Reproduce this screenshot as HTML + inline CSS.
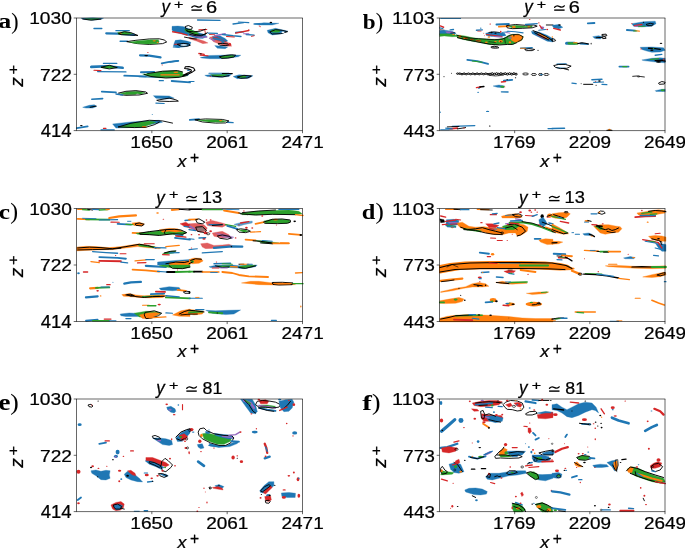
<!DOCTYPE html>
<html><head><meta charset="utf-8"><style>
html,body{margin:0;padding:0;background:#fff;width:685px;height:548px;overflow:hidden}
svg{display:block;will-change:transform}
</style></head><body>
<svg width="685" height="548" viewBox="0 0 685 548" font-family="Liberation Sans, sans-serif">
<rect width="685" height="548" fill="#fff"/>
<g>
<g transform="translate(76,17) scale(0.166423)"><polygon points="30,8 100,5 165,8 150,14 100,19 50,15" fill="#1f77b4" stroke="#1f77b4" stroke-width="2" stroke-linejoin="round"/><polygon points="55,10 140,9 125,15 75,16" fill="#2ca02c" stroke="#2ca02c" stroke-width="2" stroke-linejoin="round"/><polyline points="40,12 90,19 150,13" fill="none" stroke="#000" stroke-width="5.5" stroke-linejoin="round" stroke-linecap="round"/><polyline points="108,69 155,69" fill="none" stroke="#1f77b4" stroke-width="8.1" stroke-linecap="round" stroke-linejoin="round"/><polyline points="182,98 250,100 350,108" fill="none" stroke="#1f77b4" stroke-width="13.5" stroke-linecap="round" stroke-linejoin="round"/><polyline points="240,82 320,82" fill="none" stroke="#1f77b4" stroke-width="8.1" stroke-linecap="round" stroke-linejoin="round"/><polygon points="250,92 300,88 340,100 300,106 255,104" fill="#2ca02c" stroke="#2ca02c" stroke-width="2" stroke-linejoin="round"/><ellipse cx="268" cy="96" rx="8" ry="4" fill="#ff7f0e"/><polygon points="255,100 290,88 330,94 372,111 320,108 270,106" fill="none" stroke="#000" stroke-width="5.5" stroke-linejoin="round"/><polyline points="265,146 310,146" fill="none" stroke="#1f77b4" stroke-width="8.1" stroke-linecap="round" stroke-linejoin="round"/><polygon points="305,148 360,140 440,132 500,131 530,138 545,150 520,160 440,165 370,160" fill="none" stroke="#000" stroke-width="5.5" stroke-linejoin="round"/><polygon points="320,150 380,142 450,136 495,136 500,150 490,160 420,162 350,158" fill="#2ca02c" stroke="#2ca02c" stroke-width="2" stroke-linejoin="round"/><ellipse cx="470" cy="143" rx="10" ry="4" fill="#ff7f0e"/><ellipse cx="490" cy="152" rx="6" ry="4" fill="#ff7f0e"/><polyline points="385,230 440,232 508,242" fill="none" stroke="#1f77b4" stroke-width="13.5" stroke-linecap="round" stroke-linejoin="round"/><ellipse cx="422" cy="232" rx="12" ry="4" fill="#000"/><ellipse cx="432" cy="213" rx="4" ry="3" fill="#d62728"/><polyline points="515,278 560,270 615,264" fill="none" stroke="#1f77b4" stroke-width="10.8" stroke-linecap="round" stroke-linejoin="round"/><ellipse cx="518" cy="288" rx="4" ry="3" fill="#d62728"/><polyline points="92,300 180,296 280,305" fill="none" stroke="#1f77b4" stroke-width="16.2" stroke-linecap="round" stroke-linejoin="round"/><polyline points="165,279 245,279" fill="none" stroke="#1f77b4" stroke-width="8.1" stroke-linecap="round" stroke-linejoin="round"/><polyline points="130,328 300,330" fill="none" stroke="#1f77b4" stroke-width="8.1" stroke-linecap="round" stroke-linejoin="round"/><polyline points="108,320 150,322" fill="none" stroke="#d62728" stroke-width="6.75" stroke-linecap="round" stroke-linejoin="round"/><polygon points="150,300 200,292 245,302 200,310 160,306" fill="#2ca02c" stroke="#2ca02c" stroke-width="2" stroke-linejoin="round"/><polygon points="150,302 200,290 248,304 200,312" fill="none" stroke="#000" stroke-width="5.5" stroke-linejoin="round"/><polyline points="390,332 470,330" fill="none" stroke="#1f77b4" stroke-width="10.8" stroke-linecap="round" stroke-linejoin="round"/><polygon points="420,342 520,326 600,322 640,330 640,342" fill="#2ca02c" stroke="#2ca02c" stroke-width="2" stroke-linejoin="round"/><ellipse cx="600" cy="332" rx="15" ry="5" fill="#ff7f0e"/><polyline points="430,340 520,326 610,322 640,330" fill="none" stroke="#000" stroke-width="5.5" stroke-linejoin="round" stroke-linecap="round"/></g>
<g transform="translate(189,17) scale(0.166423)"><polygon points="395,42 450,35 540,38 500,48 420,48" fill="#1f77b4" stroke="#1f77b4" stroke-width="2" stroke-linejoin="round"/><ellipse cx="492" cy="33" rx="8" ry="4" fill="#000"/><ellipse cx="428" cy="58" rx="4" ry="3" fill="#d62728"/><polygon points="470,80 520,68 595,85 560,100 500,108 475,95" fill="#1f77b4" stroke="#1f77b4" stroke-width="2" stroke-linejoin="round"/><ellipse cx="520" cy="84" rx="28" ry="9" fill="#2ca02c"/><polygon points="485,90 520,76 560,80 592,88 550,100 500,102" fill="none" stroke="#000" stroke-width="5.5" stroke-linejoin="round"/><ellipse cx="565" cy="92" rx="10" ry="5" fill="#fff"/><polyline points="120,338 240,338" fill="none" stroke="#1f77b4" stroke-width="6.75" stroke-linecap="round" stroke-linejoin="round"/><polyline points="200,340 260,340" fill="none" stroke="#000" stroke-width="6.75" stroke-linecap="round" stroke-linejoin="round"/></g>
<g transform="translate(76,74) scale(0.166423)"><polyline points="290,10 420,14" fill="none" stroke="#1f77b4" stroke-width="10.8" stroke-linecap="round" stroke-linejoin="round"/><polyline points="380,16 520,20" fill="none" stroke="#1f77b4" stroke-width="8.1" stroke-linecap="round" stroke-linejoin="round"/><polygon points="400,0 640,0 670,10 600,22 500,22 430,12" fill="#2ca02c" stroke="#2ca02c" stroke-width="2" stroke-linejoin="round"/><polyline points="510,5 620,5" fill="none" stroke="#ff7f0e" stroke-width="6.75" stroke-linecap="round" stroke-linejoin="round"/><polyline points="410,2 450,15 540,24 620,20 670,8" fill="none" stroke="#000" stroke-width="5.5" stroke-linejoin="round" stroke-linecap="round"/><polyline points="500,40 525,40" fill="none" stroke="#1f77b4" stroke-width="6.75" stroke-linecap="round" stroke-linejoin="round"/><polyline points="575,42 685,50" fill="none" stroke="#1f77b4" stroke-width="10.8" stroke-linecap="round" stroke-linejoin="round"/><polyline points="155,106 240,110" fill="none" stroke="#1f77b4" stroke-width="10.8" stroke-linecap="round" stroke-linejoin="round"/><polygon points="265,116 310,106 370,104 415,112 385,122 300,125" fill="#2ca02c" stroke="#2ca02c" stroke-width="2" stroke-linejoin="round"/><ellipse cx="370" cy="122" rx="12" ry="4" fill="#fff"/><polygon points="255,115 300,104 360,100 420,108 430,116 380,126 300,128 265,124" fill="none" stroke="#000" stroke-width="5.5" stroke-linejoin="round"/><polyline points="240,120 280,126" fill="none" stroke="#1f77b4" stroke-width="8.1" stroke-linecap="round" stroke-linejoin="round"/><polyline points="95,152 160,148" fill="none" stroke="#1f77b4" stroke-width="9.45" stroke-linecap="round" stroke-linejoin="round"/><polygon points="40,200 80,188 110,185 125,195 100,205 60,205" fill="#1f77b4" stroke="#1f77b4" stroke-width="2" stroke-linejoin="round"/><polyline points="85,200 120,193" fill="none" stroke="#000" stroke-width="6.0" stroke-linejoin="round" stroke-linecap="round"/><polygon points="465,130 560,132 590,145 540,150 480,145" fill="#1f77b4" stroke="#1f77b4" stroke-width="2" stroke-linejoin="round"/><polygon points="485,158 530,150 560,145 600,155 615,163 560,165 500,163" fill="none" stroke="#000" stroke-width="5.5" stroke-linejoin="round"/><polyline points="480,175 530,177" fill="none" stroke="#1f77b4" stroke-width="6.75" stroke-linecap="round" stroke-linejoin="round"/><ellipse cx="458" cy="243" rx="3" ry="3" fill="#1f77b4"/><polygon points="220,300 330,288 420,282 500,278 520,290 440,305 350,320 240,325" fill="#1f77b4" stroke="#1f77b4" stroke-width="2" stroke-linejoin="round"/><polygon points="260,318 340,296 440,283 480,290 440,305 400,320 300,322" fill="#2ca02c" stroke="#2ca02c" stroke-width="2" stroke-linejoin="round"/><ellipse cx="410" cy="318" rx="15" ry="6" fill="#ff7f0e"/><polyline points="255,318 330,296 440,278 520,282 580,295" fill="none" stroke="#000" stroke-width="5.5" stroke-linejoin="round" stroke-linecap="round"/><polyline points="255,318 350,322 420,320 470,305 500,290" fill="none" stroke="#000" stroke-width="5.5" stroke-linejoin="round" stroke-linecap="round"/><polyline points="5,325 70,315" fill="none" stroke="#1f77b4" stroke-width="10.8" stroke-linecap="round" stroke-linejoin="round"/><ellipse cx="32" cy="310" rx="8" ry="4" fill="#000"/><polyline points="165,327 180,327" fill="none" stroke="#d62728" stroke-width="6.75" stroke-linecap="round" stroke-linejoin="round"/><polyline points="150,336 230,336" fill="none" stroke="#1f77b4" stroke-width="6.75" stroke-linecap="round" stroke-linejoin="round"/></g>
<g transform="translate(189,74) scale(0.166423)"><polygon points="95,8 150,2 255,2 240,15 180,20 110,15" fill="#1f77b4" stroke="#1f77b4" stroke-width="2" stroke-linejoin="round"/><polygon points="130,5 230,3 210,12 150,12" fill="#2ca02c" stroke="#2ca02c" stroke-width="2" stroke-linejoin="round"/><polyline points="140,12 200,18 240,10" fill="none" stroke="#000" stroke-width="5.5" stroke-linejoin="round" stroke-linecap="round"/><ellipse cx="128" cy="15" rx="5" ry="3" fill="#d62728"/><polygon points="265,15 300,5 385,10 360,25 290,28" fill="#1f77b4" stroke="#1f77b4" stroke-width="2" stroke-linejoin="round"/><ellipse cx="320" cy="16" rx="25" ry="6" fill="#2ca02c"/><polygon points="290,18 330,8 375,12 350,24 310,26" fill="none" stroke="#000" stroke-width="5.5" stroke-linejoin="round"/><polyline points="0,45 30,45" fill="none" stroke="#1f77b4" stroke-width="6.75" stroke-linecap="round" stroke-linejoin="round"/><polyline points="5,276 60,272" fill="none" stroke="#1f77b4" stroke-width="10.8" stroke-linecap="round" stroke-linejoin="round"/><polyline points="230,290 265,292" fill="none" stroke="#1f77b4" stroke-width="8.1" stroke-linecap="round" stroke-linejoin="round"/><polygon points="35,275 100,270 200,273 240,282 220,294 160,295 80,288" fill="none" stroke="#000" stroke-width="5.5" stroke-linejoin="round"/><polygon points="55,278 110,275 190,277 225,284 200,290 120,288" fill="#2ca02c" stroke="#2ca02c" stroke-width="2" stroke-linejoin="round"/><ellipse cx="190" cy="280" rx="10" ry="4" fill="#ff7f0e"/></g>
<g transform="translate(170,20) scale(0.131387)"><polyline points="210,0 380,3" fill="none" stroke="#1f77b4" stroke-width="10.8" stroke-linecap="round" stroke-linejoin="round"/><polygon points="15,48 60,45 100,50 140,65 200,92 260,108 282,125 250,140 200,138 150,122 100,108 40,95 15,78" fill="#1f77b4" stroke="#1f77b4" stroke-width="2" stroke-linejoin="round"/><polyline points="20,90 80,100 130,115" fill="none" stroke="#d62728" stroke-width="10.8" stroke-linecap="round" stroke-linejoin="round"/><polygon points="140,130 200,140 260,160 290,175 250,180 200,160 150,145" fill="#d62728" stroke="#d62728" stroke-width="2" stroke-linejoin="round" opacity="0.75"/><polyline points="220,75 280,72" fill="none" stroke="#d62728" stroke-width="8.1" stroke-linecap="round" stroke-linejoin="round"/><polyline points="265,80 270,100" fill="none" stroke="#d62728" stroke-width="6.75" stroke-linecap="round" stroke-linejoin="round"/><polyline points="150,110 230,130 280,130" fill="none" stroke="#9467bd" stroke-width="10.8" stroke-linecap="round" stroke-linejoin="round"/><polygon points="110,70 150,70 200,90 220,105 200,115 150,100 115,85" fill="#2ca02c" stroke="#2ca02c" stroke-width="2" stroke-linejoin="round"/><polygon points="115,50 140,42 170,55 165,70 140,72 120,65" fill="none" stroke="#000" stroke-width="6.966666666666666" stroke-linejoin="round"/><polyline points="120,75 150,95 190,110 230,115 270,110 285,95" fill="none" stroke="#000" stroke-width="6.966666666666666" stroke-linejoin="round" stroke-linecap="round"/><polyline points="150,110 200,120 240,120 275,100" fill="none" stroke="#000" stroke-width="6.966666666666666" stroke-linejoin="round" stroke-linecap="round"/><polyline points="130,85 180,90 230,85 270,70" fill="none" stroke="#000" stroke-width="6.966666666666666" stroke-linejoin="round" stroke-linecap="round"/><polyline points="110,130 160,140 200,145" fill="none" stroke="#000" stroke-width="6.966666666666666" stroke-linejoin="round" stroke-linecap="round"/><polygon points="320,125 380,120 420,140 440,160 420,170 380,160 340,150" fill="#1f77b4" stroke="#1f77b4" stroke-width="2" stroke-linejoin="round"/><polygon points="300,130 350,125 420,160 460,180 470,200 420,200 380,185 330,165" fill="#d62728" stroke="#d62728" stroke-width="2" stroke-linejoin="round" opacity="0.7"/><polyline points="330,140 380,150 410,165" fill="none" stroke="#1f77b4" stroke-width="13.5" stroke-linecap="round" stroke-linejoin="round"/><ellipse cx="400" cy="175" rx="12" ry="5" fill="#1f77b4"/><polyline points="340,120 420,105" fill="none" stroke="#9467bd" stroke-width="10.8" stroke-linecap="round" stroke-linejoin="round"/><polyline points="300,140 340,160" fill="none" stroke="#9467bd" stroke-width="8.1" stroke-linecap="round" stroke-linejoin="round"/><polygon points="365,180 400,178 440,182 450,190 420,195 380,192" fill="none" stroke="#000" stroke-width="6.966666666666666" stroke-linejoin="round"/><ellipse cx="455" cy="185" rx="10" ry="12" fill="#d62728"/><polygon points="340,195 400,200 440,205 420,218 360,215" fill="#1f77b4" stroke="#1f77b4" stroke-width="2" stroke-linejoin="round"/><polygon points="40,155 80,150 130,160 160,170 150,195 110,205 60,210 25,200 30,180" fill="#1f77b4" stroke="#1f77b4" stroke-width="2" stroke-linejoin="round"/><polyline points="35,185 70,185" fill="none" stroke="#d62728" stroke-width="8.1" stroke-linecap="round" stroke-linejoin="round"/><polygon points="55,185 100,178 140,182 155,192 130,200 80,198" fill="none" stroke="#000" stroke-width="6.966666666666666" stroke-linejoin="round"/><ellipse cx="105" cy="190" rx="25" ry="6" fill="#fff"/><polyline points="25,205 70,210" fill="none" stroke="#1f77b4" stroke-width="8.1" stroke-linecap="round" stroke-linejoin="round"/><polyline points="290,100 360,102" fill="none" stroke="#1f77b4" stroke-width="10.8" stroke-linecap="round" stroke-linejoin="round"/><polyline points="300,110 340,112" fill="none" stroke="#d62728" stroke-width="6.75" stroke-linecap="round" stroke-linejoin="round"/><polyline points="400,110 480,120 540,125" fill="none" stroke="#1f77b4" stroke-width="10.8" stroke-linecap="round" stroke-linejoin="round"/><polyline points="430,125 490,130" fill="none" stroke="#d62728" stroke-width="8.1" stroke-linecap="round" stroke-linejoin="round"/><polyline points="500,95 560,90" fill="none" stroke="#1f77b4" stroke-width="10.8" stroke-linecap="round" stroke-linejoin="round"/><polyline points="500,100 600,80" fill="none" stroke="#d62728" stroke-width="10.8" stroke-linecap="round" stroke-linejoin="round"/><polyline points="580,110 640,115" fill="none" stroke="#1f77b4" stroke-width="10.8" stroke-linecap="round" stroke-linejoin="round"/><polyline points="560,105 600,105" fill="none" stroke="#9467bd" stroke-width="8.1" stroke-linecap="round" stroke-linejoin="round"/><polyline points="620,125 640,120" fill="none" stroke="#d62728" stroke-width="6.75" stroke-linecap="round" stroke-linejoin="round"/><polyline points="480,30 560,20" fill="none" stroke="#1f77b4" stroke-width="10.8" stroke-linecap="round" stroke-linejoin="round"/><polyline points="520,15 600,20" fill="none" stroke="#1f77b4" stroke-width="8.1" stroke-linecap="round" stroke-linejoin="round"/><polyline points="640,30 685,28" fill="none" stroke="#1f77b4" stroke-width="10.8" stroke-linecap="round" stroke-linejoin="round"/><ellipse cx="600" cy="75" rx="5" ry="4" fill="#d62728"/><ellipse cx="680" cy="45" rx="4" ry="4" fill="#d62728"/><polyline points="220,255 260,262" fill="none" stroke="#d62728" stroke-width="10.8" stroke-linecap="round" stroke-linejoin="round"/><ellipse cx="235" cy="258" rx="6" ry="4" fill="#000"/><polygon points="230,285 300,270 380,268 460,265 540,268 520,280 450,290 380,295 300,295 240,290" fill="#1f77b4" stroke="#1f77b4" stroke-width="2" stroke-linejoin="round"/><polyline points="230,268 290,272" fill="none" stroke="#d62728" stroke-width="8.1" stroke-linecap="round" stroke-linejoin="round"/><polygon points="380,278 430,272 480,268 490,280 440,288 390,290" fill="#2ca02c" stroke="#2ca02c" stroke-width="2" stroke-linejoin="round"/><polygon points="375,280 420,270 470,265 500,268 485,282 440,290 395,292" fill="none" stroke="#000" stroke-width="6.966666666666666" stroke-linejoin="round"/><polyline points="0,320 60,310" fill="none" stroke="#1f77b4" stroke-width="10.8" stroke-linecap="round" stroke-linejoin="round"/></g>
<g transform="translate(130,60) scale(0.116788)"><ellipse cx="500" cy="88" rx="14" ry="6" fill="#1f77b4"/><polyline points="470,128 500,125" fill="none" stroke="#1f77b4" stroke-width="10.8" stroke-linecap="round" stroke-linejoin="round"/><polygon points="452,138 500,120 535,102 556,88 545,68 505,56 474,58 468,72 495,76 522,84 526,94 498,110 460,128" fill="none" stroke="#000" stroke-width="9.0" stroke-linejoin="round"/></g>
</g>
<g stroke="#000" stroke-width="0.6" fill="none">
<path d="M76.2,18.0H302.8M76.2,130.6H302.8M76.5,18.0V130.6M302.5,18.0V130.6"/>
<path d="M73.70,18.00H76.5M151.83,130.6V133.20M73.70,74.30H76.5M227.17,130.6V133.20M73.70,130.60H76.5M302.50,130.6V133.20"/>
</g>
<text transform="matrix(0.19190,0,0,0.17042,29.16,24.23)" font-size="100" stroke="#000" stroke-width="1.38" >1030</text>
<text transform="matrix(0.19108,0,0,0.17286,40.04,80.70)" font-size="100" stroke="#000" stroke-width="1.37" >722</text>
<text transform="matrix(0.18519,0,0,0.17536,40.63,137.00)" font-size="100" stroke="#000" stroke-width="1.39" >414</text>
<text transform="matrix(0.19190,0,0,0.16479,130.25,147.94)" font-size="100" stroke="#000" stroke-width="1.40" >1650</text>
<text transform="matrix(0.19009,0,0,0.16479,206.17,147.94)" font-size="100" stroke="#000" stroke-width="1.41" >2061</text>
<text transform="matrix(0.19009,0,0,0.16714,281.50,148.10)" font-size="100" stroke="#000" stroke-width="1.40" >2471</text>
<text transform="matrix(0.17857,0,0,0.16415,177.41,166.50)" font-size="100" stroke="#000" stroke-width="1.46" font-style="italic">x</text>
<text transform="matrix(0.15625,0,0,0.16122,189.92,162.75)" font-size="100" stroke="#000" stroke-width="1.57" >+</text>
<text transform="matrix(0,-0.19184,0.17547,0,23.10,86.70)" font-size="100" stroke="#000" stroke-width="1.36" font-style="italic">z</text>
<text transform="matrix(0,-0.16458,0.15510,0,18.40,74.62)" font-size="100" stroke="#000" stroke-width="1.56" >+</text>
<text transform="matrix(0.17000,0,0,0.17973,161.40,13.23)" font-size="100" stroke="#000" stroke-width="1.43" font-style="italic">y</text>
<text transform="matrix(0.16042,0,0,0.13673,174.05,8.53)" font-size="100" stroke="#000" stroke-width="1.68" >+</text>
<path d="M191.85,7.25 C194.05,4.95 195.45,5.95 196.70,6.55 S199.35,8.15 201.55,5.85" stroke="#000" stroke-width="1.35" fill="none" stroke-linecap="round"/>
<rect x="191.45" y="9.40" width="10.4" height="1.4" fill="#000"/>
<text transform="matrix(0.20000,0,0,0.15775,206.05,12.64)" font-size="100" stroke="#000" stroke-width="1.40" >6</text>
<text transform="matrix(0.26000,0,0,0.21667,-1.78,28.28)" font-size="100" stroke="#000" stroke-width="0.00" font-family="Liberation Serif" font-weight="bold">a</text>
<text transform="matrix(0.21923,0,0,0.23444,11.14,28.88)" font-size="100" stroke="#000" stroke-width="0.22" font-family="Liberation Serif">)</text>
<g>
<g transform="translate(439,17) scale(0.166423)"><polyline points="10,9 130,9" fill="none" stroke="#1f77b4" stroke-width="5.4" stroke-linecap="round" stroke-linejoin="round"/><polyline points="345,45 420,42" fill="none" stroke="#1f77b4" stroke-width="10.8" stroke-linecap="round" stroke-linejoin="round"/><polyline points="360,58 420,55" fill="none" stroke="#ff7f0e" stroke-width="10.8" stroke-linecap="round" stroke-linejoin="round"/><polygon points="420,55 460,50 520,55 560,52 560,62 500,64 440,66" fill="#2ca02c" stroke="#2ca02c" stroke-width="2" stroke-linejoin="round"/><ellipse cx="450" cy="60" rx="12" ry="6" fill="#ff7f0e"/><ellipse cx="540" cy="60" rx="10" ry="5" fill="#ff7f0e"/><polygon points="405,52 460,45 520,50 570,48 590,55 560,65 500,68 440,70 410,65" fill="none" stroke="#000" stroke-width="5.5" stroke-linejoin="round"/><polyline points="520,45 590,40" fill="none" stroke="#1f77b4" stroke-width="8.1" stroke-linecap="round" stroke-linejoin="round"/><ellipse cx="545" cy="15" rx="5" ry="3" fill="#d62728"/><ellipse cx="600" cy="35" rx="4" ry="4" fill="#d62728"/><polygon points="555,85 600,90 650,110 685,130 685,150 650,145 590,115 560,100" fill="#1f77b4" stroke="#1f77b4" stroke-width="2" stroke-linejoin="round"/><polyline points="600,100 660,130" fill="none" stroke="#ff7f0e" stroke-width="8.1" stroke-linecap="round" stroke-linejoin="round"/><polyline points="590,105 640,130" fill="none" stroke="#d62728" stroke-width="6.75" stroke-linecap="round" stroke-linejoin="round"/><polyline points="565,82 600,95 640,115 680,140" fill="none" stroke="#000" stroke-width="6.0" stroke-linejoin="round" stroke-linecap="round"/><polyline points="575,95 620,118 660,138" fill="none" stroke="#000" stroke-width="6.0" stroke-linejoin="round" stroke-linecap="round"/><ellipse cx="620" cy="65" rx="12" ry="8" fill="#9467bd"/><polyline points="605,50 620,70" fill="none" stroke="#d62728" stroke-width="6.75" stroke-linecap="round" stroke-linejoin="round"/><ellipse cx="650" cy="75" rx="6" ry="5" fill="#d62728"/><polyline points="645,48 685,48" fill="none" stroke="#000" stroke-width="5.5" stroke-linejoin="round" stroke-linecap="round"/><polyline points="600,80 640,75" fill="none" stroke="#1f77b4" stroke-width="6.75" stroke-linecap="round" stroke-linejoin="round"/><polyline points="490,188 560,185" fill="none" stroke="#1f77b4" stroke-width="8.1" stroke-linecap="round" stroke-linejoin="round"/><polyline points="490,188 520,188" fill="none" stroke="#ff7f0e" stroke-width="5.4" stroke-linecap="round" stroke-linejoin="round"/><polygon points="515,195 540,190 575,195 560,202 525,202" fill="none" stroke="#000" stroke-width="5.5" stroke-linejoin="round"/><ellipse cx="595" cy="200" rx="4" ry="3" fill="#000"/><polyline points="170,258 230,265 295,282" fill="none" stroke="#1f77b4" stroke-width="10.8" stroke-linecap="round" stroke-linejoin="round"/><polyline points="200,264 260,272" fill="none" stroke="#2ca02c" stroke-width="6.75" stroke-linecap="round" stroke-linejoin="round"/></g>
<g transform="translate(552,17) scale(0.166423)"><polygon points="0,50 40,45 65,62 40,72 10,65" fill="#1f77b4" stroke="#1f77b4" stroke-width="2" stroke-linejoin="round"/><polyline points="10,68 50,78" fill="none" stroke="#d62728" stroke-width="8.1" stroke-linecap="round" stroke-linejoin="round"/><ellipse cx="45" cy="48" rx="8" ry="4" fill="#000"/><ellipse cx="2" cy="120" rx="4" ry="4" fill="#ff7f0e"/><polygon points="0,130 15,133 22,142 10,146 0,145" fill="none" stroke="#000" stroke-width="5.5" stroke-linejoin="round"/><polyline points="215,38 255,36" fill="none" stroke="#1f77b4" stroke-width="10.8" stroke-linecap="round" stroke-linejoin="round"/><polygon points="245,118 280,112 305,120 290,132 255,128" fill="#1f77b4" stroke="#1f77b4" stroke-width="2" stroke-linejoin="round"/><polyline points="265,125 300,122" fill="none" stroke="#000" stroke-width="6.0" stroke-linejoin="round" stroke-linecap="round"/><polygon points="300,105 325,103 330,112 315,115 300,112" fill="none" stroke="#000" stroke-width="5.5" stroke-linejoin="round"/><polygon points="300,120 320,118 325,128 305,130" fill="none" stroke="#000" stroke-width="5.5" stroke-linejoin="round"/><polyline points="88,158 135,158" fill="none" stroke="#1f77b4" stroke-width="18.9" stroke-linecap="round" stroke-linejoin="round"/><polyline points="100,158 150,160" fill="none" stroke="#2ca02c" stroke-width="13.5" stroke-linecap="round" stroke-linejoin="round"/><polyline points="130,155 150,155" fill="none" stroke="#ff7f0e" stroke-width="6.75" stroke-linecap="round" stroke-linejoin="round"/><polyline points="170,160 215,163" fill="none" stroke="#1f77b4" stroke-width="10.8" stroke-linecap="round" stroke-linejoin="round"/><polyline points="155,160 180,155 200,158 220,162" fill="none" stroke="#000" stroke-width="7.0" stroke-linejoin="round" stroke-linecap="round"/><ellipse cx="235" cy="160" rx="3" ry="5" fill="#000"/><polygon points="480,40 550,28 620,25 625,40 600,55 540,60 490,55" fill="#1f77b4" stroke="#1f77b4" stroke-width="2" stroke-linejoin="round"/><polyline points="495,52 540,45" fill="none" stroke="#d62728" stroke-width="8.1" stroke-linecap="round" stroke-linejoin="round"/><ellipse cx="480" cy="40" rx="5" ry="3" fill="#d62728"/><polyline points="500,55 540,55" fill="none" stroke="#9467bd" stroke-width="5.4" stroke-linecap="round" stroke-linejoin="round"/><polyline points="520,58 560,55" fill="none" stroke="#2ca02c" stroke-width="5.4" stroke-linecap="round" stroke-linejoin="round"/><polygon points="565,45 590,38 610,42 600,52 575,52" fill="none" stroke="#000" stroke-width="5.5" stroke-linejoin="round"/><ellipse cx="550" cy="32" rx="4" ry="3" fill="#000"/><polyline points="450,78 500,82" fill="none" stroke="#1f77b4" stroke-width="10.8" stroke-linecap="round" stroke-linejoin="round"/><polyline points="500,83 525,85" fill="none" stroke="#ff7f0e" stroke-width="6.75" stroke-linecap="round" stroke-linejoin="round"/><polyline points="490,84 510,84" fill="none" stroke="#2ca02c" stroke-width="5.4" stroke-linecap="round" stroke-linejoin="round"/><polygon points="530,182 600,180 670,185 680,200 650,210 600,212 570,205 540,195" fill="#1f77b4" stroke="#1f77b4" stroke-width="2" stroke-linejoin="round"/><polyline points="580,188 620,190 650,195" fill="none" stroke="#000" stroke-width="8.0" stroke-linejoin="round" stroke-linecap="round"/><ellipse cx="600" cy="200" rx="10" ry="5" fill="#000"/><ellipse cx="655" cy="158" rx="8" ry="4" fill="#000"/><ellipse cx="535" cy="192" rx="4" ry="4" fill="#d62728"/><ellipse cx="610" cy="190" rx="5" ry="4" fill="#2ca02c"/><polyline points="620,230 660,225" fill="none" stroke="#1f77b4" stroke-width="8.1" stroke-linecap="round" stroke-linejoin="round"/><polygon points="540,258 600,248 650,245 680,248 680,275 640,272 600,268 550,262" fill="#1f77b4" stroke="#1f77b4" stroke-width="2" stroke-linejoin="round"/><polyline points="590,255 640,250" fill="none" stroke="#2ca02c" stroke-width="6.75" stroke-linecap="round" stroke-linejoin="round"/><polyline points="620,262 660,260 680,265" fill="none" stroke="#000" stroke-width="8.0" stroke-linejoin="round" stroke-linecap="round"/><ellipse cx="640" cy="270" rx="15" ry="5" fill="#000"/><ellipse cx="672" cy="255" rx="4" ry="6" fill="#d62728"/><polyline points="30,284 85,282" fill="none" stroke="#1f77b4" stroke-width="8.1" stroke-linecap="round" stroke-linejoin="round"/><polyline points="30,305 80,308" fill="none" stroke="#1f77b4" stroke-width="6.75" stroke-linecap="round" stroke-linejoin="round"/><polygon points="10,292 40,285 80,285 115,295 90,308 50,310 20,302" fill="none" stroke="#000" stroke-width="5.5" stroke-linejoin="round"/><polyline points="70,310 100,318" fill="none" stroke="#000" stroke-width="5.5" stroke-linejoin="round" stroke-linecap="round"/><polyline points="405,298 460,298" fill="none" stroke="#1f77b4" stroke-width="10.8" stroke-linecap="round" stroke-linejoin="round"/><polyline points="425,298 450,298" fill="none" stroke="#2ca02c" stroke-width="6.75" stroke-linecap="round" stroke-linejoin="round"/></g>
<g transform="translate(439,74) scale(0.166423)"><polyline points="390,40 440,35" fill="none" stroke="#1f77b4" stroke-width="10.8" stroke-linecap="round" stroke-linejoin="round"/><polyline points="375,48 400,45" fill="none" stroke="#d62728" stroke-width="8.1" stroke-linecap="round" stroke-linejoin="round"/><ellipse cx="410" cy="35" rx="6" ry="3" fill="#000"/><ellipse cx="460" cy="22" rx="4" ry="3" fill="#000"/><polygon points="325,72 360,66 395,72 390,82 350,80" fill="#1f77b4" stroke="#1f77b4" stroke-width="2" stroke-linejoin="round"/><ellipse cx="380" cy="76" rx="12" ry="6" fill="#2ca02c"/><ellipse cx="395" cy="78" rx="4" ry="3" fill="#ff7f0e"/><polyline points="225,82 250,78" fill="none" stroke="#d62728" stroke-width="8.1" stroke-linecap="round" stroke-linejoin="round"/><polyline points="245,78 270,75" fill="none" stroke="#000" stroke-width="8.1" stroke-linecap="round" stroke-linejoin="round"/><ellipse cx="240" cy="85" rx="6" ry="3" fill="#1f77b4"/><ellipse cx="235" cy="110" rx="6" ry="3" fill="#1f77b4"/><polyline points="375,107 415,108" fill="none" stroke="#1f77b4" stroke-width="8.1" stroke-linecap="round" stroke-linejoin="round"/><ellipse cx="292" cy="225" rx="10" ry="4" fill="#1f77b4"/><ellipse cx="8" cy="230" rx="3" ry="4" fill="#1f77b4"/><polyline points="80,315 215,310" fill="none" stroke="#1f77b4" stroke-width="8.1" stroke-linecap="round" stroke-linejoin="round"/><polyline points="50,318 120,315" fill="none" stroke="#000" stroke-width="5.5" stroke-linejoin="round" stroke-linecap="round"/><polyline points="65,330 110,325" fill="none" stroke="#d62728" stroke-width="10.8" stroke-linecap="round" stroke-linejoin="round"/><polyline points="40,325 80,330" fill="none" stroke="#1f77b4" stroke-width="6.75" stroke-linecap="round" stroke-linejoin="round"/><ellipse cx="305" cy="312" rx="5" ry="3" fill="#000"/><polyline points="10,335 60,335" fill="none" stroke="#1f77b4" stroke-width="6.75" stroke-linecap="round" stroke-linejoin="round"/><polyline points="110,330 160,322" fill="none" stroke="#000" stroke-width="5.5" stroke-linejoin="round" stroke-linecap="round"/><ellipse cx="150" cy="325" rx="5" ry="3" fill="#d62728"/><polyline points="655,328 685,328" fill="none" stroke="#1f77b4" stroke-width="6.75" stroke-linecap="round" stroke-linejoin="round"/></g>
<g transform="translate(552,74) scale(0.166423)"><polyline points="485,14 510,12 530,15 555,18" fill="none" stroke="#000" stroke-width="5.0" stroke-linejoin="round" stroke-linecap="round"/><ellipse cx="520" cy="15" rx="8" ry="4" fill="none" stroke="#000" stroke-width="3.0"/><polyline points="240,35 300,32" fill="none" stroke="#1f77b4" stroke-width="9.45" stroke-linecap="round" stroke-linejoin="round"/><polyline points="250,50 310,48" fill="none" stroke="#1f77b4" stroke-width="6.75" stroke-linecap="round" stroke-linejoin="round"/><polyline points="190,62 245,62" fill="none" stroke="#000" stroke-width="6.0" stroke-linejoin="round" stroke-linecap="round"/><ellipse cx="175" cy="58" rx="3" ry="3" fill="#000"/><ellipse cx="265" cy="68" rx="4" ry="3" fill="#000"/><ellipse cx="262" cy="45" rx="3" ry="3" fill="#d62728"/><polyline points="120,55 145,58" fill="none" stroke="#1f77b4" stroke-width="8.1" stroke-linecap="round" stroke-linejoin="round"/><polyline points="300,62 330,64" fill="none" stroke="#1f77b4" stroke-width="6.75" stroke-linecap="round" stroke-linejoin="round"/><ellipse cx="285" cy="42" rx="8" ry="4" fill="#000"/><polygon points="640,55 660,45 680,50 675,60 645,62" fill="none" stroke="#000" stroke-width="5.5" stroke-linejoin="round"/><polygon points="620,100 660,92 680,92 680,105 625,105" fill="#1f77b4" stroke="#1f77b4" stroke-width="2" stroke-linejoin="round"/><ellipse cx="665" cy="97" rx="12" ry="6" fill="#2ca02c"/><polyline points="0,328 75,326" fill="none" stroke="#1f77b4" stroke-width="9.45" stroke-linecap="round" stroke-linejoin="round"/><ellipse cx="345" cy="335" rx="8" ry="6" fill="#ff7f0e"/><polyline points="330,338 360,338" fill="none" stroke="#000" stroke-width="6.75" stroke-linecap="round" stroke-linejoin="round"/></g>
<g transform="translate(439,20) scale(0.131387)"><polyline points="10,45 35,55" fill="none" stroke="#d62728" stroke-width="10.8" stroke-linecap="round" stroke-linejoin="round"/><polyline points="5,60 30,65" fill="none" stroke="#1f77b4" stroke-width="8.1" stroke-linecap="round" stroke-linejoin="round"/><polyline points="10,75 40,78" fill="none" stroke="#000" stroke-width="6.0" stroke-linejoin="round" stroke-linecap="round"/><polygon points="5,80 50,78 100,85 130,100 120,110 60,112 5,110" fill="#1f77b4" stroke="#1f77b4" stroke-width="2" stroke-linejoin="round"/><polygon points="50,88 100,88 110,98 60,100" fill="#9467bd" stroke="#9467bd" stroke-width="2" stroke-linejoin="round"/><polygon points="5,105 60,105 120,110 140,125 100,128 40,122 5,125" fill="#2ca02c" stroke="#2ca02c" stroke-width="2" stroke-linejoin="round"/><ellipse cx="110" cy="110" rx="8" ry="5" fill="#ff7f0e"/><polyline points="85,75 110,72" fill="none" stroke="#1f77b4" stroke-width="10.8" stroke-linecap="round" stroke-linejoin="round"/><polyline points="90,100 120,96" fill="none" stroke="#000" stroke-width="5.0" stroke-linejoin="round" stroke-linecap="round"/><polygon points="130,112 200,122 260,136 330,142 400,146 450,146 500,136 540,112 600,106 642,125 632,152 592,172 560,186 500,184 440,190 380,186 320,174 250,162 180,148 140,136" fill="#2ca02c" stroke="#2ca02c" stroke-width="2" stroke-linejoin="round"/><ellipse cx="200" cy="138" rx="20" ry="7" fill="#ff7f0e"/><ellipse cx="300" cy="158" rx="22" ry="7" fill="#ff7f0e"/><ellipse cx="470" cy="162" rx="15" ry="10" fill="#ff7f0e"/><polygon points="540,118 600,110 640,128 622,160 582,172 548,152" fill="#ff7f0e" stroke="#ff7f0e" stroke-width="2" stroke-linejoin="round"/><ellipse cx="360" cy="170" rx="12" ry="6" fill="#ff7f0e"/><ellipse cx="160" cy="125" rx="12" ry="8" fill="#ff7f0e"/><ellipse cx="250" cy="148" rx="15" ry="6" fill="#ff7f0e"/><ellipse cx="600" cy="130" rx="30" ry="20" fill="#ff7f0e"/><ellipse cx="430" cy="165" rx="10" ry="6" fill="#ff7f0e"/><ellipse cx="540" cy="170" rx="10" ry="8" fill="#ff7f0e"/><ellipse cx="380" cy="130" rx="10" ry="6" fill="#ff7f0e"/><ellipse cx="540" cy="135" rx="15" ry="10" fill="#7f7f7f"/><polygon points="355,100 400,90 450,95 500,100 510,120 460,125 400,125 360,118" fill="#1f77b4" stroke="#1f77b4" stroke-width="2" stroke-linejoin="round"/><polyline points="360,110 420,118 480,125" fill="none" stroke="#d62728" stroke-width="8.1" stroke-linecap="round" stroke-linejoin="round"/><polyline points="420,125 480,132" fill="none" stroke="#9467bd" stroke-width="8.1" stroke-linecap="round" stroke-linejoin="round"/><polyline points="380,95 420,90 460,95" fill="none" stroke="#000" stroke-width="6.0" stroke-linejoin="round" stroke-linecap="round"/><ellipse cx="470" cy="90" rx="6" ry="8" fill="#d62728"/><polyline points="480,95 520,90" fill="none" stroke="#1f77b4" stroke-width="6.75" stroke-linecap="round" stroke-linejoin="round"/><polyline points="510,95 540,100" fill="none" stroke="#9467bd" stroke-width="6.75" stroke-linecap="round" stroke-linejoin="round"/><polyline points="520,85 580,90 640,98" fill="none" stroke="#1f77b4" stroke-width="8.1" stroke-linecap="round" stroke-linejoin="round"/><polyline points="135,116 180,128 240,138 300,142 360,146 420,150 480,146 520,128" fill="none" stroke="#000" stroke-width="6.0" stroke-linejoin="round" stroke-linecap="round"/><polyline points="200,140 260,150 320,160" fill="none" stroke="#000" stroke-width="4.0" stroke-linejoin="round" stroke-linecap="round"/><polyline points="380,165 430,172" fill="none" stroke="#000" stroke-width="4.0" stroke-linejoin="round" stroke-linecap="round"/><polyline points="140,134 200,148 280,164 340,176 400,186 460,190 520,186 560,186 592,172" fill="none" stroke="#000" stroke-width="7.0" stroke-linejoin="round" stroke-linecap="round"/><polyline points="520,125 560,110 610,112 640,128 630,150 600,165" fill="none" stroke="#000" stroke-width="6.0" stroke-linejoin="round" stroke-linecap="round"/><polyline points="500,140 505,175" fill="none" stroke="#000" stroke-width="5.0" stroke-linejoin="round" stroke-linecap="round"/><ellipse cx="400" cy="95" rx="8" ry="6" fill="#000"/><ellipse cx="430" cy="100" rx="8" ry="5" fill="#000"/><ellipse cx="470" cy="165" rx="6" ry="4" fill="#000"/><ellipse cx="570" cy="120" rx="5" ry="5" fill="#000"/><polyline points="285,78 330,75" fill="none" stroke="#1f77b4" stroke-width="10.8" stroke-linecap="round" stroke-linejoin="round"/><polyline points="295,85 320,85" fill="none" stroke="#d62728" stroke-width="5.4" stroke-linecap="round" stroke-linejoin="round"/><ellipse cx="318" cy="62" rx="5" ry="4" fill="#1f77b4"/><ellipse cx="340" cy="100" rx="4" ry="3" fill="#d62728"/><ellipse cx="345" cy="120" rx="3" ry="3" fill="#d62728"/><ellipse cx="390" cy="30" rx="6" ry="4" fill="#d62728"/><ellipse cx="425" cy="208" rx="20" ry="4" fill="#7f7f7f"/><polygon points="395,205 420,200 450,205 455,212 430,215 400,212" fill="none" stroke="#000" stroke-width="6.966666666666666" stroke-linejoin="round"/></g>
<g transform="translate(439,62) scale(0.166423)"><ellipse cx="30" cy="88" rx="4" ry="3" fill="#000"/><ellipse cx="75" cy="68" rx="3" ry="3" fill="#000"/><ellipse cx="112" cy="70" rx="7" ry="4" fill="none" stroke="#000" stroke-width="6.0"/><ellipse cx="125" cy="70" rx="7" ry="4" fill="none" stroke="#000" stroke-width="6.0"/><ellipse cx="138" cy="73" rx="7" ry="4" fill="none" stroke="#000" stroke-width="6.0"/><ellipse cx="151" cy="70" rx="7" ry="4" fill="none" stroke="#000" stroke-width="6.0"/><ellipse cx="164" cy="73" rx="7" ry="4" fill="none" stroke="#000" stroke-width="6.0"/><ellipse cx="177" cy="70" rx="7" ry="4" fill="none" stroke="#000" stroke-width="6.0"/><ellipse cx="190" cy="73" rx="7" ry="4" fill="none" stroke="#000" stroke-width="6.0"/><ellipse cx="203" cy="70" rx="7" ry="4" fill="none" stroke="#000" stroke-width="6.0"/><ellipse cx="216" cy="73" rx="7" ry="4" fill="none" stroke="#000" stroke-width="6.0"/><ellipse cx="229" cy="70" rx="7" ry="4" fill="none" stroke="#000" stroke-width="6.0"/><ellipse cx="242" cy="73" rx="7" ry="4" fill="none" stroke="#000" stroke-width="6.0"/><ellipse cx="255" cy="70" rx="7" ry="4" fill="none" stroke="#000" stroke-width="6.0"/><ellipse cx="268" cy="73" rx="7" ry="4" fill="none" stroke="#000" stroke-width="6.0"/><ellipse cx="281" cy="70" rx="7" ry="4" fill="none" stroke="#000" stroke-width="6.0"/><ellipse cx="294" cy="73" rx="7" ry="4" fill="none" stroke="#000" stroke-width="6.0"/><ellipse cx="307" cy="73" rx="7" ry="5.5" fill="none" stroke="#000" stroke-width="6.0"/><ellipse cx="320" cy="70" rx="7" ry="5.5" fill="none" stroke="#000" stroke-width="6.0"/><ellipse cx="333" cy="73" rx="7" ry="5.5" fill="none" stroke="#000" stroke-width="6.0"/><ellipse cx="346" cy="70" rx="7" ry="5.5" fill="none" stroke="#000" stroke-width="6.0"/><ellipse cx="359" cy="73" rx="7" ry="5.5" fill="none" stroke="#000" stroke-width="6.0"/><ellipse cx="372" cy="70" rx="7" ry="5.5" fill="none" stroke="#000" stroke-width="6.0"/><ellipse cx="385" cy="73" rx="7" ry="5.5" fill="none" stroke="#000" stroke-width="6.0"/><ellipse cx="398" cy="70" rx="7" ry="5.5" fill="none" stroke="#000" stroke-width="6.0"/><ellipse cx="411" cy="73" rx="7" ry="5.5" fill="none" stroke="#000" stroke-width="6.0"/><ellipse cx="424" cy="70" rx="7" ry="5.5" fill="none" stroke="#000" stroke-width="6.0"/><ellipse cx="437" cy="73" rx="7" ry="5.5" fill="none" stroke="#000" stroke-width="6.0"/><ellipse cx="450" cy="70" rx="7" ry="5.5" fill="none" stroke="#000" stroke-width="6.0"/><ellipse cx="463" cy="73" rx="7" ry="5.5" fill="none" stroke="#000" stroke-width="6.0"/><polyline points="300,80 340,84 380,80" fill="none" stroke="#000" stroke-width="4.0" stroke-linejoin="round" stroke-linecap="round"/><ellipse cx="520" cy="72" rx="18" ry="6" fill="none" stroke="#000" stroke-width="5.0"/><ellipse cx="570" cy="75" rx="15" ry="6" fill="none" stroke="#000" stroke-width="5.0"/><ellipse cx="610" cy="75" rx="12" ry="6" fill="none" stroke="#000" stroke-width="5.0"/><ellipse cx="645" cy="75" rx="15" ry="6" fill="none" stroke="#000" stroke-width="5.0"/><ellipse cx="615" cy="76" rx="8" ry="4" fill="#1f77b4"/></g>
</g>
<g stroke="#000" stroke-width="0.6" fill="none">
<path d="M439.2,18.0H665.3M439.2,130.6H665.3M439.5,18.0V130.6M665.0,18.0V130.6"/>
<path d="M436.70,18.00H439.5M514.67,130.6V133.20M436.70,74.30H439.5M589.83,130.6V133.20M436.70,130.60H439.5M665.00,130.6V133.20"/>
</g>
<text transform="matrix(0.19852,0,0,0.17042,392.11,24.23)" font-size="100" stroke="#000" stroke-width="1.36" >1103</text>
<text transform="matrix(0.19108,0,0,0.17042,403.04,80.53)" font-size="100" stroke="#000" stroke-width="1.38" >773</text>
<text transform="matrix(0.18750,0,0,0.17042,403.62,136.83)" font-size="100" stroke="#000" stroke-width="1.40" >443</text>
<text transform="matrix(0.19190,0,0,0.16479,493.08,147.94)" font-size="100" stroke="#000" stroke-width="1.40" >1769</text>
<text transform="matrix(0.18920,0,0,0.16479,568.84,147.94)" font-size="100" stroke="#000" stroke-width="1.41" >2209</text>
<text transform="matrix(0.18920,0,0,0.16479,644.00,147.94)" font-size="100" stroke="#000" stroke-width="1.41" >2649</text>
<text transform="matrix(0.17857,0,0,0.16415,540.16,166.50)" font-size="100" stroke="#000" stroke-width="1.46" font-style="italic">x</text>
<text transform="matrix(0.15625,0,0,0.16122,552.67,162.75)" font-size="100" stroke="#000" stroke-width="1.57" >+</text>
<text transform="matrix(0,-0.19184,0.17547,0,386.10,86.70)" font-size="100" stroke="#000" stroke-width="1.36" font-style="italic">z</text>
<text transform="matrix(0,-0.16458,0.15510,0,381.40,74.62)" font-size="100" stroke="#000" stroke-width="1.56" >+</text>
<text transform="matrix(0.17000,0,0,0.17973,524.15,13.23)" font-size="100" stroke="#000" stroke-width="1.43" font-style="italic">y</text>
<text transform="matrix(0.16042,0,0,0.13673,536.80,8.53)" font-size="100" stroke="#000" stroke-width="1.68" >+</text>
<path d="M554.60,7.25 C556.80,4.95 558.20,5.95 559.45,6.55 S562.10,8.15 564.30,5.85" stroke="#000" stroke-width="1.35" fill="none" stroke-linecap="round"/>
<rect x="554.20" y="9.40" width="10.4" height="1.4" fill="#000"/>
<text transform="matrix(0.20000,0,0,0.15775,568.80,12.64)" font-size="100" stroke="#000" stroke-width="1.40" >6</text>
<text transform="matrix(0.23137,0,0,0.21571,362.67,28.58)" font-size="100" stroke="#000" stroke-width="0.00" font-family="Liberation Serif" font-weight="bold">b</text>
<text transform="matrix(0.22308,0,0,0.23111,375.63,28.85)" font-size="100" stroke="#000" stroke-width="0.22" font-family="Liberation Serif">)</text>
<g>
<g transform="translate(76,208) scale(0.166423)"><polyline points="10,8 60,8" fill="none" stroke="#ff7f0e" stroke-width="8.1" stroke-linecap="round" stroke-linejoin="round"/><polyline points="40,10 80,12" fill="none" stroke="#2ca02c" stroke-width="8.1" stroke-linecap="round" stroke-linejoin="round"/><polyline points="70,8 100,12" fill="none" stroke="#000" stroke-width="5.5" stroke-linejoin="round" stroke-linecap="round"/><polyline points="100,8 140,10" fill="none" stroke="#1f77b4" stroke-width="6.75" stroke-linecap="round" stroke-linejoin="round"/><polyline points="140,12 190,10" fill="none" stroke="#2ca02c" stroke-width="8.1" stroke-linecap="round" stroke-linejoin="round"/><polyline points="180,10 200,8" fill="none" stroke="#ff7f0e" stroke-width="6.75" stroke-linecap="round" stroke-linejoin="round"/><polyline points="575,12 620,8" fill="none" stroke="#ff7f0e" stroke-width="10.8" stroke-linecap="round" stroke-linejoin="round"/><polyline points="620,8 685,12" fill="none" stroke="#000" stroke-width="6.0" stroke-linejoin="round" stroke-linecap="round"/><ellipse cx="490" cy="30" rx="8" ry="4" fill="#ff7f0e"/><ellipse cx="525" cy="68" rx="5" ry="3" fill="#d62728"/><polyline points="10,65 80,68" fill="none" stroke="#ff7f0e" stroke-width="10.8" stroke-linecap="round" stroke-linejoin="round"/><polyline points="60,68 200,70" fill="none" stroke="#2ca02c" stroke-width="10.8" stroke-linecap="round" stroke-linejoin="round"/><polyline points="40,62 120,64" fill="none" stroke="#1f77b4" stroke-width="5.4" stroke-linecap="round" stroke-linejoin="round"/><polyline points="200,60 260,50 360,45" fill="none" stroke="#ff7f0e" stroke-width="13.5" stroke-linecap="round" stroke-linejoin="round"/><polyline points="140,72 250,70" fill="none" stroke="#1f77b4" stroke-width="6.75" stroke-linecap="round" stroke-linejoin="round"/><polyline points="210,85 260,86" fill="none" stroke="#d62728" stroke-width="6.75" stroke-linecap="round" stroke-linejoin="round"/><polyline points="250,95 330,100" fill="none" stroke="#1f77b4" stroke-width="10.8" stroke-linecap="round" stroke-linejoin="round"/><polyline points="300,98 350,100" fill="none" stroke="#2ca02c" stroke-width="8.1" stroke-linecap="round" stroke-linejoin="round"/><polygon points="335,90 380,85 410,95 400,108 350,105" fill="#ff7f0e" stroke="#ff7f0e" stroke-width="2" stroke-linejoin="round"/><polygon points="355,95 380,90 410,98 395,108 360,104" fill="none" stroke="#000" stroke-width="5.5" stroke-linejoin="round"/><polyline points="310,80 330,80" fill="none" stroke="#1f77b4" stroke-width="5.4" stroke-linecap="round" stroke-linejoin="round"/><polyline points="340,150 400,152" fill="none" stroke="#ff7f0e" stroke-width="10.8" stroke-linecap="round" stroke-linejoin="round"/><polygon points="360,152 420,145 480,140 520,135 560,128 620,135 665,148 640,160 560,158 500,162 420,160 370,158" fill="#2ca02c" stroke="#2ca02c" stroke-width="2" stroke-linejoin="round"/><polygon points="500,130 560,122 610,125 640,140 600,145 560,140 520,145" fill="#ff7f0e" stroke="#ff7f0e" stroke-width="2" stroke-linejoin="round"/><polyline points="380,152 440,142 500,135 540,130 590,128 630,132 665,148 640,158 580,155 540,160 500,165 440,160 385,158" fill="none" stroke="#000" stroke-width="6.0" stroke-linejoin="round" stroke-linecap="round"/><polyline points="540,132 530,150 540,160" fill="none" stroke="#000" stroke-width="5.5" stroke-linejoin="round" stroke-linecap="round"/><polyline points="600,162 640,168" fill="none" stroke="#1f77b4" stroke-width="10.8" stroke-linecap="round" stroke-linejoin="round"/><polyline points="600,168 660,175" fill="none" stroke="#d62728" stroke-width="8.1" stroke-linecap="round" stroke-linejoin="round"/><polyline points="595,180 685,190" fill="none" stroke="#1f77b4" stroke-width="10.8" stroke-linecap="round" stroke-linejoin="round"/><polyline points="655,75 685,72" fill="none" stroke="#1f77b4" stroke-width="8.1" stroke-linecap="round" stroke-linejoin="round"/><polygon points="625,95 660,85 685,100 685,120 650,110" fill="#d62728" stroke="#d62728" stroke-width="2" stroke-linejoin="round"/><polyline points="650,110 685,115" fill="none" stroke="#1f77b4" stroke-width="8.1" stroke-linecap="round" stroke-linejoin="round"/><polygon points="5,235 60,230 120,232 200,238 270,232 330,222 380,215 420,222 470,232 510,240 500,245 420,238 370,232 300,240 220,250 120,252 50,255 5,258" fill="#ff7f0e" stroke="#ff7f0e" stroke-width="2" stroke-linejoin="round"/><polyline points="380,225 470,235" fill="none" stroke="#2ca02c" stroke-width="10.8" stroke-linecap="round" stroke-linejoin="round"/><polyline points="10,240 80,235 150,238 220,245 300,232 380,218 430,225 480,240" fill="none" stroke="#000" stroke-width="6.0" stroke-linejoin="round" stroke-linecap="round"/><polyline points="10,252 100,250 200,248 270,242" fill="none" stroke="#000" stroke-width="5.5" stroke-linejoin="round" stroke-linecap="round"/><polyline points="410,215 470,215" fill="none" stroke="#d62728" stroke-width="6.75" stroke-linecap="round" stroke-linejoin="round"/><polyline points="470,238 540,240" fill="none" stroke="#1f77b4" stroke-width="8.1" stroke-linecap="round" stroke-linejoin="round"/><polyline points="540,232 620,225" fill="none" stroke="#ff7f0e" stroke-width="8.1" stroke-linecap="round" stroke-linejoin="round"/><polyline points="100,262 180,268 250,272" fill="none" stroke="#1f77b4" stroke-width="8.1" stroke-linecap="round" stroke-linejoin="round"/><polyline points="265,275 300,275" fill="none" stroke="#d62728" stroke-width="6.75" stroke-linecap="round" stroke-linejoin="round"/><polyline points="140,295 250,300 300,305" fill="none" stroke="#1f77b4" stroke-width="10.8" stroke-linecap="round" stroke-linejoin="round"/><polyline points="140,318 270,320" fill="none" stroke="#d62728" stroke-width="10.8" stroke-linecap="round" stroke-linejoin="round"/><polyline points="90,322 140,328" fill="none" stroke="#ff7f0e" stroke-width="8.1" stroke-linecap="round" stroke-linejoin="round"/><polyline points="270,325 310,330" fill="none" stroke="#1f77b4" stroke-width="8.1" stroke-linecap="round" stroke-linejoin="round"/><ellipse cx="238" cy="285" rx="4" ry="3" fill="#d62728"/><polygon points="520,275 560,262 600,258 590,270 540,278" fill="#2ca02c" stroke="#2ca02c" stroke-width="2" stroke-linejoin="round"/><polyline points="530,270 570,260 600,258" fill="none" stroke="#000" stroke-width="6.0" stroke-linejoin="round" stroke-linecap="round"/><polyline points="520,280 560,282" fill="none" stroke="#d62728" stroke-width="6.75" stroke-linecap="round" stroke-linejoin="round"/><polyline points="560,270 620,268" fill="none" stroke="#1f77b4" stroke-width="6.75" stroke-linecap="round" stroke-linejoin="round"/><polyline points="355,318 420,312" fill="none" stroke="#ff7f0e" stroke-width="8.1" stroke-linecap="round" stroke-linejoin="round"/><polyline points="370,330 420,328" fill="none" stroke="#d62728" stroke-width="8.1" stroke-linecap="round" stroke-linejoin="round"/><polyline points="420,310 470,310" fill="none" stroke="#1f77b4" stroke-width="8.1" stroke-linecap="round" stroke-linejoin="round"/><polygon points="490,325 560,318 640,312 685,310 685,342 490,342" fill="#1f77b4" stroke="#1f77b4" stroke-width="2" stroke-linejoin="round"/><polygon points="560,330 620,322 685,318 685,342 560,342" fill="#ff7f0e" stroke="#ff7f0e" stroke-width="2" stroke-linejoin="round"/><polyline points="540,335 600,325 650,328 680,320" fill="none" stroke="#000" stroke-width="6.0" stroke-linejoin="round" stroke-linecap="round"/></g>
<g transform="translate(189,208) scale(0.166423)"><polyline points="0,8 80,8" fill="none" stroke="#000" stroke-width="8.1" stroke-linecap="round" stroke-linejoin="round"/><polyline points="80,10 200,10" fill="none" stroke="#2ca02c" stroke-width="8.1" stroke-linecap="round" stroke-linejoin="round"/><polyline points="200,8 300,10" fill="none" stroke="#1f77b4" stroke-width="5.4" stroke-linecap="round" stroke-linejoin="round"/><polyline points="210,15 300,30" fill="none" stroke="#ff7f0e" stroke-width="10.8" stroke-linecap="round" stroke-linejoin="round"/><polyline points="300,30 350,40" fill="none" stroke="#000" stroke-width="5.5" stroke-linejoin="round" stroke-linecap="round"/><polygon points="310,32 400,20 500,15 600,12 660,20 680,35 640,40 500,38 400,42 320,40" fill="#2ca02c" stroke="#2ca02c" stroke-width="2" stroke-linejoin="round"/><polyline points="310,35 400,42 500,38 640,40" fill="none" stroke="#000" stroke-width="5.5" stroke-linejoin="round" stroke-linecap="round"/><polyline points="320,28 420,18 520,12" fill="none" stroke="#000" stroke-width="5.5" stroke-linejoin="round" stroke-linecap="round"/><polyline points="640,40 685,45" fill="none" stroke="#ff7f0e" stroke-width="8.1" stroke-linecap="round" stroke-linejoin="round"/><polyline points="540,8 660,8" fill="none" stroke="#1f77b4" stroke-width="8.1" stroke-linecap="round" stroke-linejoin="round"/><ellipse cx="440" cy="48" rx="6" ry="4" fill="#d62728"/><ellipse cx="330" cy="18" rx="4" ry="4" fill="#d62728"/><polyline points="400,95 450,85" fill="none" stroke="#ff7f0e" stroke-width="10.8" stroke-linecap="round" stroke-linejoin="round"/><polygon points="450,78 500,68 560,68 600,72 610,80 600,90 540,92 460,92" fill="#2ca02c" stroke="#2ca02c" stroke-width="2" stroke-linejoin="round"/><ellipse cx="520" cy="70" rx="15" ry="5" fill="#ff7f0e"/><polygon points="448,85 500,68 560,66 608,72 610,85 590,92 530,94 455,92" fill="none" stroke="#000" stroke-width="5.5" stroke-linejoin="round"/><ellipse cx="525" cy="102" rx="3" ry="3" fill="#d62728"/><ellipse cx="635" cy="80" rx="8" ry="5" fill="#000"/><polyline points="600,155 670,162" fill="none" stroke="#ff7f0e" stroke-width="10.8" stroke-linecap="round" stroke-linejoin="round"/><ellipse cx="672" cy="162" rx="8" ry="6" fill="#000"/><polyline points="550,210 600,212" fill="none" stroke="#ff7f0e" stroke-width="8.1" stroke-linecap="round" stroke-linejoin="round"/><polyline points="340,190 400,195" fill="none" stroke="#ff7f0e" stroke-width="10.8" stroke-linecap="round" stroke-linejoin="round"/><polygon points="400,195 460,198 500,205 540,210 500,215 440,210" fill="#2ca02c" stroke="#2ca02c" stroke-width="2" stroke-linejoin="round"/><polyline points="440,195 500,200" fill="none" stroke="#1f77b4" stroke-width="6.75" stroke-linecap="round" stroke-linejoin="round"/><polyline points="385,197 430,200 460,205 500,210" fill="none" stroke="#000" stroke-width="6.0" stroke-linejoin="round" stroke-linecap="round"/><polyline points="500,212 600,212" fill="none" stroke="#ff7f0e" stroke-width="10.8" stroke-linecap="round" stroke-linejoin="round"/><polyline points="430,210 500,215" fill="none" stroke="#000" stroke-width="5.5" stroke-linejoin="round" stroke-linecap="round"/><polyline points="0,70 50,68" fill="none" stroke="#ff7f0e" stroke-width="10.8" stroke-linecap="round" stroke-linejoin="round"/><polygon points="0,95 40,92 90,100 110,120 100,140 70,145 30,130 0,120" fill="#d62728" stroke="#d62728" stroke-width="2" stroke-linejoin="round" opacity="0.75"/><polyline points="5,110 30,125" fill="none" stroke="#9467bd" stroke-width="10.8" stroke-linecap="round" stroke-linejoin="round"/><polyline points="0,130 40,135" fill="none" stroke="#1f77b4" stroke-width="8.1" stroke-linecap="round" stroke-linejoin="round"/><polygon points="40,115 80,112 100,135 60,140" fill="#7f7f7f" stroke="#7f7f7f" stroke-width="2" stroke-linejoin="round" opacity="0.75"/><polygon points="40,115 80,112 105,135 95,148 50,140" fill="none" stroke="#000" stroke-width="5.5" stroke-linejoin="round"/><polygon points="40,70 60,65 95,85 80,95 50,90" fill="none" stroke="#000" stroke-width="5.5" stroke-linejoin="round"/><polygon points="100,85 140,75 200,90 230,100 200,115 140,110 110,105" fill="#d62728" stroke="#d62728" stroke-width="2" stroke-linejoin="round" opacity="0.75"/><polyline points="120,100 200,100" fill="none" stroke="#1f77b4" stroke-width="8.1" stroke-linecap="round" stroke-linejoin="round"/><polyline points="140,105 200,100" fill="none" stroke="#000" stroke-width="6.0" stroke-linejoin="round" stroke-linecap="round"/><polygon points="140,150 200,140 240,160 250,175 200,180 150,170" fill="#d62728" stroke="#d62728" stroke-width="2" stroke-linejoin="round" opacity="0.75"/><polygon points="160,150 220,160 270,175 260,185 200,175" fill="#9467bd" stroke="#9467bd" stroke-width="2" stroke-linejoin="round" opacity="0.75"/><polygon points="170,168 200,162 240,170 255,180 230,188 185,182" fill="none" stroke="#000" stroke-width="5.5" stroke-linejoin="round"/><ellipse cx="100" cy="150" rx="12" ry="8" fill="#d62728"/><ellipse cx="90" cy="185" rx="10" ry="6" fill="#d62728"/><ellipse cx="130" cy="140" rx="8" ry="6" fill="#d62728"/><ellipse cx="15" cy="160" rx="5" ry="4" fill="#d62728"/><ellipse cx="60" cy="160" rx="6" ry="4" fill="#d62728"/><ellipse cx="280" cy="180" rx="5" ry="4" fill="#d62728"/><ellipse cx="105" cy="72" rx="5" ry="4" fill="#d62728"/><ellipse cx="130" cy="72" rx="6" ry="4" fill="#d62728"/><polyline points="60,180 100,178" fill="none" stroke="#1f77b4" stroke-width="8.1" stroke-linecap="round" stroke-linejoin="round"/><polyline points="0,185 30,188" fill="none" stroke="#1f77b4" stroke-width="6.75" stroke-linecap="round" stroke-linejoin="round"/><ellipse cx="115" cy="155" rx="10" ry="6" fill="none" stroke="#000" stroke-width="4.0"/><polygon points="70,215 110,210 150,225 200,222 240,218 260,225 220,235 160,242 100,245 80,235" fill="#d62728" stroke="#d62728" stroke-width="2" stroke-linejoin="round" opacity="0.75"/><polyline points="150,240 260,230 320,232" fill="none" stroke="#1f77b4" stroke-width="13.5" stroke-linecap="round" stroke-linejoin="round"/><ellipse cx="255" cy="232" rx="5" ry="4" fill="#000"/><polyline points="80,270 200,262" fill="none" stroke="#1f77b4" stroke-width="8.1" stroke-linecap="round" stroke-linejoin="round"/><polyline points="0,250 50,245" fill="none" stroke="#1f77b4" stroke-width="6.75" stroke-linecap="round" stroke-linejoin="round"/><ellipse cx="15" cy="240" rx="4" ry="3" fill="#d62728"/><polygon points="270,98 320,85 380,78 380,90 330,100 300,110" fill="#1f77b4" stroke="#1f77b4" stroke-width="2" stroke-linejoin="round" opacity="0.75"/><polyline points="310,90 360,82" fill="none" stroke="#d62728" stroke-width="8.1" stroke-linecap="round" stroke-linejoin="round"/><polyline points="220,100 280,110" fill="none" stroke="#2ca02c" stroke-width="8.1" stroke-linecap="round" stroke-linejoin="round"/><polyline points="230,108 290,125" fill="none" stroke="#1f77b4" stroke-width="10.8" stroke-linecap="round" stroke-linejoin="round"/><polygon points="295,130 340,132 360,140 330,145" fill="#2ca02c" stroke="#2ca02c" stroke-width="2" stroke-linejoin="round"/><polygon points="285,130 310,125 350,130 370,140 340,148 300,145" fill="none" stroke="#000" stroke-width="5.5" stroke-linejoin="round"/><ellipse cx="345" cy="118" rx="8" ry="6" fill="#d62728"/><ellipse cx="380" cy="120" rx="6" ry="4" fill="#d62728"/><ellipse cx="300" cy="100" rx="5" ry="3" fill="#d62728"/><polyline points="370,145 430,142" fill="none" stroke="#ff7f0e" stroke-width="6.75" stroke-linecap="round" stroke-linejoin="round"/><polygon points="0,310 30,300 70,302 85,318 60,332 20,335 0,330" fill="#ff7f0e" stroke="#ff7f0e" stroke-width="2" stroke-linejoin="round"/><ellipse cx="20" cy="322" rx="10" ry="8" fill="#2ca02c"/><polyline points="10,315 40,305 75,308" fill="none" stroke="#000" stroke-width="6.0" stroke-linejoin="round" stroke-linecap="round"/><polyline points="0,335 20,325" fill="none" stroke="#000" stroke-width="6.0" stroke-linejoin="round" stroke-linecap="round"/><polyline points="150,335 250,332" fill="none" stroke="#1f77b4" stroke-width="8.1" stroke-linecap="round" stroke-linejoin="round"/><polyline points="200,335 260,338" fill="none" stroke="#2ca02c" stroke-width="6.75" stroke-linecap="round" stroke-linejoin="round"/><polyline points="300,338 330,338" fill="none" stroke="#000" stroke-width="5.5" stroke-linejoin="round" stroke-linecap="round"/><polyline points="310,338 360,338" fill="none" stroke="#ff7f0e" stroke-width="6.75" stroke-linecap="round" stroke-linejoin="round"/><polyline points="350,338 380,338" fill="none" stroke="#1f77b4" stroke-width="6.75" stroke-linecap="round" stroke-linejoin="round"/><ellipse cx="165" cy="325" rx="4" ry="3" fill="#d62728"/></g>
<g transform="translate(76,265) scale(0.166423)"><polyline points="420,5 540,12" fill="none" stroke="#1f77b4" stroke-width="13.5" stroke-linecap="round" stroke-linejoin="round"/><polygon points="500,5 560,15 640,22 685,15 685,0 520,0" fill="#2ca02c" stroke="#2ca02c" stroke-width="2" stroke-linejoin="round"/><polyline points="560,5 580,20 640,22 685,12" fill="none" stroke="#000" stroke-width="5.5" stroke-linejoin="round" stroke-linecap="round"/><polyline points="340,28 420,32 500,40" fill="none" stroke="#ff7f0e" stroke-width="10.8" stroke-linecap="round" stroke-linejoin="round"/><polyline points="545,42 600,42" fill="none" stroke="#000" stroke-width="10.8" stroke-linecap="round" stroke-linejoin="round"/><polyline points="600,42 685,40" fill="none" stroke="#2ca02c" stroke-width="10.8" stroke-linecap="round" stroke-linejoin="round"/><polyline points="490,38 545,42" fill="none" stroke="#1f77b4" stroke-width="6.75" stroke-linecap="round" stroke-linejoin="round"/><ellipse cx="610" cy="30" rx="4" ry="3" fill="#d62728"/><ellipse cx="15" cy="50" rx="8" ry="6" fill="#1f77b4"/><polyline points="45,42 70,42" fill="none" stroke="#d62728" stroke-width="8.1" stroke-linecap="round" stroke-linejoin="round"/><polyline points="290,112 330,105 390,102" fill="none" stroke="#1f77b4" stroke-width="13.5" stroke-linecap="round" stroke-linejoin="round"/><ellipse cx="222" cy="104" rx="3" ry="3" fill="#1f77b4"/><polyline points="185,118 205,118" fill="none" stroke="#d62728" stroke-width="8.1" stroke-linecap="round" stroke-linejoin="round"/><polyline points="85,140 130,138" fill="none" stroke="#ff7f0e" stroke-width="13.5" stroke-linecap="round" stroke-linejoin="round"/><polyline points="120,138 200,135" fill="none" stroke="#2ca02c" stroke-width="10.8" stroke-linecap="round" stroke-linejoin="round"/><polyline points="150,132 200,132" fill="none" stroke="#1f77b4" stroke-width="6.75" stroke-linecap="round" stroke-linejoin="round"/><ellipse cx="130" cy="155" rx="8" ry="5" fill="#d62728"/><polyline points="60,195 130,188" fill="none" stroke="#1f77b4" stroke-width="13.5" stroke-linecap="round" stroke-linejoin="round"/><ellipse cx="148" cy="186" rx="5" ry="4" fill="#ff7f0e"/><polygon points="275,178 320,172 360,180 410,185 460,182 520,178 545,185 520,195 440,198 380,195 320,190 285,188" fill="#ff7f0e" stroke="#ff7f0e" stroke-width="2" stroke-linejoin="round"/><polyline points="400,190 500,188" fill="none" stroke="#2ca02c" stroke-width="8.1" stroke-linecap="round" stroke-linejoin="round"/><polyline points="450,175 530,172" fill="none" stroke="#1f77b4" stroke-width="10.8" stroke-linecap="round" stroke-linejoin="round"/><polyline points="300,180 330,182 360,190 410,195 460,190 530,188" fill="none" stroke="#000" stroke-width="6.0" stroke-linejoin="round" stroke-linecap="round"/><polygon points="305,178 330,175 350,185 330,188" fill="none" stroke="#000" stroke-width="5.5" stroke-linejoin="round"/><polyline points="540,195 685,200" fill="none" stroke="#2ca02c" stroke-width="10.8" stroke-linecap="round" stroke-linejoin="round"/><polyline points="540,185 620,192" fill="none" stroke="#1f77b4" stroke-width="8.1" stroke-linecap="round" stroke-linejoin="round"/><polyline points="480,160 535,162" fill="none" stroke="#d62728" stroke-width="10.8" stroke-linecap="round" stroke-linejoin="round"/><polygon points="500,140 560,130 620,135 630,150 580,155 510,150" fill="#1f77b4" stroke="#1f77b4" stroke-width="2" stroke-linejoin="round"/><polyline points="610,150 660,155" fill="none" stroke="#ff7f0e" stroke-width="10.8" stroke-linecap="round" stroke-linejoin="round"/><polygon points="645,162 665,158 685,160 685,170 655,170" fill="none" stroke="#000" stroke-width="5.5" stroke-linejoin="round"/><polyline points="400,242 440,242" fill="none" stroke="#ff7f0e" stroke-width="6.75" stroke-linecap="round" stroke-linejoin="round"/><polyline points="430,245 480,245" fill="none" stroke="#2ca02c" stroke-width="8.1" stroke-linecap="round" stroke-linejoin="round"/><ellipse cx="500" cy="238" rx="10" ry="5" fill="#d62728"/><polygon points="265,295 320,288 380,292 400,300 370,310 300,310 270,305" fill="#1f77b4" stroke="#1f77b4" stroke-width="2" stroke-linejoin="round"/><polygon points="350,290 420,278 480,280 510,290 480,305 430,318 380,312" fill="#2ca02c" stroke="#2ca02c" stroke-width="2" stroke-linejoin="round"/><polygon points="380,300 430,288 480,285 505,292 470,310 440,322 400,322" fill="#ff7f0e" stroke="#ff7f0e" stroke-width="2" stroke-linejoin="round"/><polygon points="415,285 470,275 515,290 495,305 450,320 420,322 410,300" fill="none" stroke="#000" stroke-width="5.5" stroke-linejoin="round"/><polyline points="300,322 330,322" fill="none" stroke="#1f77b4" stroke-width="8.1" stroke-linecap="round" stroke-linejoin="round"/><polyline points="440,318 540,312" fill="none" stroke="#ff7f0e" stroke-width="8.1" stroke-linecap="round" stroke-linejoin="round"/><polyline points="540,288 580,290" fill="none" stroke="#1f77b4" stroke-width="6.75" stroke-linecap="round" stroke-linejoin="round"/><polygon points="580,300 630,275 685,265 685,310 620,308" fill="#ff7f0e" stroke="#ff7f0e" stroke-width="2" stroke-linejoin="round"/><polyline points="620,295 650,280 685,270" fill="none" stroke="#000" stroke-width="6.0" stroke-linejoin="round" stroke-linecap="round"/><polyline points="630,300 685,295" fill="none" stroke="#000" stroke-width="5.5" stroke-linejoin="round" stroke-linecap="round"/><polyline points="60,335 130,328" fill="none" stroke="#1f77b4" stroke-width="10.8" stroke-linecap="round" stroke-linejoin="round"/><polyline points="100,335 200,335" fill="none" stroke="#2ca02c" stroke-width="8.1" stroke-linecap="round" stroke-linejoin="round"/><polyline points="170,325 210,325" fill="none" stroke="#d62728" stroke-width="8.1" stroke-linecap="round" stroke-linejoin="round"/><polyline points="200,335 240,335" fill="none" stroke="#1f77b4" stroke-width="6.75" stroke-linecap="round" stroke-linejoin="round"/></g>
<g transform="translate(189,265) scale(0.166423)"><polygon points="120,10 160,2 260,0 300,5 410,0 400,10 330,22 290,18 240,15 130,15" fill="#1f77b4" stroke="#1f77b4" stroke-width="2" stroke-linejoin="round"/><polygon points="170,5 250,5 270,10 200,12" fill="#2ca02c" stroke="#2ca02c" stroke-width="2" stroke-linejoin="round"/><polygon points="300,8 350,2 400,2 380,12 320,20" fill="#2ca02c" stroke="#2ca02c" stroke-width="2" stroke-linejoin="round"/><polyline points="250,10 290,12" fill="none" stroke="#ff7f0e" stroke-width="8.1" stroke-linecap="round" stroke-linejoin="round"/><polyline points="160,5 200,15 240,12" fill="none" stroke="#000" stroke-width="5.5" stroke-linejoin="round" stroke-linecap="round"/><polyline points="300,15 340,20 400,5" fill="none" stroke="#000" stroke-width="5.5" stroke-linejoin="round" stroke-linecap="round"/><polyline points="140,18 180,18" fill="none" stroke="#d62728" stroke-width="6.75" stroke-linecap="round" stroke-linejoin="round"/><polyline points="190,18 230,18" fill="none" stroke="#9467bd" stroke-width="5.4" stroke-linecap="round" stroke-linejoin="round"/><polyline points="0,40 30,40" fill="none" stroke="#2ca02c" stroke-width="10.8" stroke-linecap="round" stroke-linejoin="round"/><polyline points="30,40 80,40" fill="none" stroke="#000" stroke-width="10.8" stroke-linecap="round" stroke-linejoin="round"/><polyline points="80,42 180,42" fill="none" stroke="#ff7f0e" stroke-width="8.1" stroke-linecap="round" stroke-linejoin="round"/><polyline points="130,45 170,45" fill="none" stroke="#1f77b4" stroke-width="5.4" stroke-linecap="round" stroke-linejoin="round"/><polyline points="200,42 260,48 300,60 360,68 475,72" fill="none" stroke="#ff7f0e" stroke-width="10.8" stroke-linecap="round" stroke-linejoin="round"/><polyline points="640,48 680,46" fill="none" stroke="#ff7f0e" stroke-width="8.1" stroke-linecap="round" stroke-linejoin="round"/><polygon points="315,108 370,98 420,98 480,105 500,108 620,110 640,118 500,120 420,118 360,112" fill="#ff7f0e" stroke="#ff7f0e" stroke-width="2" stroke-linejoin="round"/><polygon points="500,105 560,104 625,108 620,118 540,120 505,117" fill="none" stroke="#000" stroke-width="6.0" stroke-linejoin="round"/><polygon points="510,108 560,108 615,110 610,115 540,116 510,114" fill="#ff7f0e" stroke="#ff7f0e" stroke-width="2" stroke-linejoin="round"/><polyline points="625,112 685,112" fill="none" stroke="#2ca02c" stroke-width="8.1" stroke-linecap="round" stroke-linejoin="round"/><ellipse cx="2" cy="165" rx="4" ry="8" fill="#000"/><polyline points="0,200 80,200" fill="none" stroke="#1f77b4" stroke-width="6.75" stroke-linecap="round" stroke-linejoin="round"/><polyline points="40,195 60,195" fill="none" stroke="#ff7f0e" stroke-width="5.4" stroke-linecap="round" stroke-linejoin="round"/><polygon points="0,268 40,270 90,280 80,295 30,300 0,295" fill="#ff7f0e" stroke="#ff7f0e" stroke-width="2" stroke-linejoin="round"/><polyline points="0,285 80,280" fill="none" stroke="#2ca02c" stroke-width="10.8" stroke-linecap="round" stroke-linejoin="round"/><polyline points="0,272 40,275 90,282" fill="none" stroke="#000" stroke-width="6.0" stroke-linejoin="round" stroke-linecap="round"/><polyline points="0,295 50,295" fill="none" stroke="#000" stroke-width="5.5" stroke-linejoin="round" stroke-linecap="round"/><polyline points="40,268 90,268" fill="none" stroke="#1f77b4" stroke-width="6.75" stroke-linecap="round" stroke-linejoin="round"/><polygon points="100,272 160,275 240,272 310,270 270,295 220,298 140,290" fill="#1f77b4" stroke="#1f77b4" stroke-width="2" stroke-linejoin="round"/><polyline points="120,285 200,290" fill="none" stroke="#2ca02c" stroke-width="10.8" stroke-linecap="round" stroke-linejoin="round"/><ellipse cx="170" cy="288" rx="5" ry="3" fill="#000"/><ellipse cx="672" cy="250" rx="4" ry="6" fill="#ff7f0e"/><polyline points="495,333 525,333" fill="none" stroke="#1f77b4" stroke-width="6.75" stroke-linecap="round" stroke-linejoin="round"/></g>
</g>
<g stroke="#000" stroke-width="0.6" fill="none">
<path d="M76.2,208.5H302.8M76.2,321.5H302.8M76.5,208.5V321.5M302.5,208.5V321.5"/>
<path d="M73.70,208.50H76.5M151.83,321.5V324.10M73.70,265.00H76.5M227.17,321.5V324.10M73.70,321.50H76.5M302.50,321.5V324.10"/>
</g>
<text transform="matrix(0.19190,0,0,0.17042,29.16,214.73)" font-size="100" stroke="#000" stroke-width="1.38" >1030</text>
<text transform="matrix(0.19108,0,0,0.17286,40.04,271.40)" font-size="100" stroke="#000" stroke-width="1.37" >722</text>
<text transform="matrix(0.18519,0,0,0.17536,40.63,327.90)" font-size="100" stroke="#000" stroke-width="1.39" >414</text>
<text transform="matrix(0.19190,0,0,0.16479,130.25,338.84)" font-size="100" stroke="#000" stroke-width="1.40" >1650</text>
<text transform="matrix(0.19009,0,0,0.16479,206.17,338.84)" font-size="100" stroke="#000" stroke-width="1.41" >2061</text>
<text transform="matrix(0.19009,0,0,0.16714,281.50,339.00)" font-size="100" stroke="#000" stroke-width="1.40" >2471</text>
<text transform="matrix(0.17857,0,0,0.16415,177.41,357.40)" font-size="100" stroke="#000" stroke-width="1.46" font-style="italic">x</text>
<text transform="matrix(0.15625,0,0,0.16122,189.92,353.65)" font-size="100" stroke="#000" stroke-width="1.57" >+</text>
<text transform="matrix(0,-0.19184,0.17547,0,23.10,277.20)" font-size="100" stroke="#000" stroke-width="1.36" font-style="italic">z</text>
<text transform="matrix(0,-0.16458,0.15510,0,18.40,265.12)" font-size="100" stroke="#000" stroke-width="1.56" >+</text>
<text transform="matrix(0.17000,0,0,0.17973,156.30,203.73)" font-size="100" stroke="#000" stroke-width="1.43" font-style="italic">y</text>
<text transform="matrix(0.16042,0,0,0.13673,168.95,199.03)" font-size="100" stroke="#000" stroke-width="1.68" >+</text>
<path d="M186.75,197.75 C188.95,195.45 190.35,196.45 191.60,197.05 S194.25,198.65 196.45,196.35" stroke="#000" stroke-width="1.35" fill="none" stroke-linecap="round"/>
<rect x="186.35" y="199.90" width="10.4" height="1.4" fill="#000"/>
<text transform="matrix(0.18283,0,0,0.15775,201.79,203.14)" font-size="100" stroke="#000" stroke-width="1.47" >13</text>
<text transform="matrix(0.25385,0,0,0.21250,-1.36,218.89)" font-size="100" stroke="#000" stroke-width="0.00" font-family="Liberation Serif" font-weight="bold">c</text>
<text transform="matrix(0.23462,0,0,0.23111,10.20,219.15)" font-size="100" stroke="#000" stroke-width="0.21" font-family="Liberation Serif">)</text>
<g>
<g transform="translate(439,208) scale(0.166423)"><polyline points="40,8 110,8" fill="none" stroke="#ff7f0e" stroke-width="8.1" stroke-linecap="round" stroke-linejoin="round"/><polyline points="90,8 130,10" fill="none" stroke="#000" stroke-width="5.5" stroke-linejoin="round" stroke-linecap="round"/><polyline points="130,10 180,10" fill="none" stroke="#1f77b4" stroke-width="6.75" stroke-linecap="round" stroke-linejoin="round"/><polyline points="230,8 300,10" fill="none" stroke="#ff7f0e" stroke-width="8.1" stroke-linecap="round" stroke-linejoin="round"/><polyline points="250,10 320,12" fill="none" stroke="#000" stroke-width="5.5" stroke-linejoin="round" stroke-linecap="round"/><polyline points="10,48 40,55" fill="none" stroke="#d62728" stroke-width="8.1" stroke-linecap="round" stroke-linejoin="round"/><polygon points="5,65 30,70 35,85 10,88" fill="#000" stroke="#000" stroke-width="2" stroke-linejoin="round"/><polygon points="45,70 90,68 120,75 115,100 70,110 40,108" fill="#1f77b4" stroke="#1f77b4" stroke-width="2" stroke-linejoin="round"/><polyline points="40,80 100,72" fill="none" stroke="#d62728" stroke-width="8.1" stroke-linecap="round" stroke-linejoin="round"/><polyline points="60,88 110,90" fill="none" stroke="#9467bd" stroke-width="8.1" stroke-linecap="round" stroke-linejoin="round"/><polyline points="70,98 120,95" fill="none" stroke="#d62728" stroke-width="6.75" stroke-linecap="round" stroke-linejoin="round"/><polyline points="50,108 100,110" fill="none" stroke="#2ca02c" stroke-width="8.1" stroke-linecap="round" stroke-linejoin="round"/><polyline points="20,100 50,98" fill="none" stroke="#d62728" stroke-width="6.75" stroke-linecap="round" stroke-linejoin="round"/><ellipse cx="80" cy="115" rx="10" ry="6" fill="#ff7f0e"/><polyline points="50,112 100,115" fill="none" stroke="#1f77b4" stroke-width="6.75" stroke-linecap="round" stroke-linejoin="round"/><polyline points="100,68 130,72" fill="none" stroke="#d62728" stroke-width="6.75" stroke-linecap="round" stroke-linejoin="round"/><polygon points="110,90 140,85 180,110 220,115 270,112 320,118 360,120 400,110 430,100 470,95 510,100 535,115 530,140 500,160 470,170 460,150 420,150 380,160 340,160 300,155 250,140 200,130 160,125 130,120 115,105" fill="#ff7f0e" stroke="#ff7f0e" stroke-width="2" stroke-linejoin="round"/><polyline points="150,125 250,140" fill="none" stroke="#2ca02c" stroke-width="10.8" stroke-linecap="round" stroke-linejoin="round"/><polygon points="380,110 430,95 470,92 480,110 450,130 400,130" fill="#2ca02c" stroke="#2ca02c" stroke-width="2" stroke-linejoin="round"/><ellipse cx="330" cy="128" rx="20" ry="6" fill="#7f7f7f"/><polygon points="280,95 320,95 360,105 340,118 300,115" fill="#d62728" stroke="#d62728" stroke-width="2" stroke-linejoin="round"/><polyline points="330,95 360,90" fill="none" stroke="#1f77b4" stroke-width="8.1" stroke-linecap="round" stroke-linejoin="round"/><polyline points="400,95 440,90" fill="none" stroke="#9467bd" stroke-width="6.75" stroke-linecap="round" stroke-linejoin="round"/><polyline points="410,100 440,102" fill="none" stroke="#d62728" stroke-width="6.75" stroke-linecap="round" stroke-linejoin="round"/><polyline points="350,118 400,125" fill="none" stroke="#1f77b4" stroke-width="8.1" stroke-linecap="round" stroke-linejoin="round"/><polyline points="300,120 330,130" fill="none" stroke="#d62728" stroke-width="6.75" stroke-linecap="round" stroke-linejoin="round"/><polyline points="130,115 170,130 220,125 260,118 300,130 340,140 380,150" fill="none" stroke="#000" stroke-width="6.0" stroke-linejoin="round" stroke-linecap="round"/><polyline points="150,130 220,135 280,150 330,158 380,160" fill="none" stroke="#000" stroke-width="5.5" stroke-linejoin="round" stroke-linecap="round"/><polyline points="460,100 500,115 520,140 490,162 470,168" fill="none" stroke="#000" stroke-width="6.0" stroke-linejoin="round" stroke-linecap="round"/><polyline points="400,120 440,110 470,130" fill="none" stroke="#000" stroke-width="5.5" stroke-linejoin="round" stroke-linecap="round"/><ellipse cx="380" cy="150" rx="8" ry="6" fill="none" stroke="#000" stroke-width="4.0"/><polyline points="420,100 460,95" fill="none" stroke="#000" stroke-width="5.5" stroke-linejoin="round" stroke-linecap="round"/><polyline points="310,180 340,182" fill="none" stroke="#d62728" stroke-width="6.75" stroke-linecap="round" stroke-linejoin="round"/><polyline points="350,195 380,195" fill="none" stroke="#d62728" stroke-width="6.75" stroke-linecap="round" stroke-linejoin="round"/><ellipse cx="410" cy="195" rx="4" ry="3" fill="#d62728"/><ellipse cx="440" cy="158" rx="3" ry="3" fill="#d62728"/><ellipse cx="255" cy="88" rx="8" ry="4" fill="#d62728"/><polyline points="308,40 345,40" fill="none" stroke="#d62728" stroke-width="6.75" stroke-linecap="round" stroke-linejoin="round"/><polyline points="320,35 350,32" fill="none" stroke="#1f77b4" stroke-width="6.75" stroke-linecap="round" stroke-linejoin="round"/><polygon points="375,50 420,38 460,35 490,42 500,55 470,60 420,60 380,60" fill="#ff7f0e" stroke="#ff7f0e" stroke-width="2" stroke-linejoin="round"/><polyline points="400,45 450,40" fill="none" stroke="#1f77b4" stroke-width="5.4" stroke-linecap="round" stroke-linejoin="round"/><polygon points="440,40 480,35 500,45 490,55 460,52" fill="none" stroke="#000" stroke-width="5.5" stroke-linejoin="round"/><ellipse cx="490" cy="25" rx="8" ry="6" fill="#d62728"/><polyline points="520,45 570,48" fill="none" stroke="#d62728" stroke-width="6.75" stroke-linecap="round" stroke-linejoin="round"/><polyline points="460,65 490,70" fill="none" stroke="#9467bd" stroke-width="8.1" stroke-linecap="round" stroke-linejoin="round"/><ellipse cx="500" cy="80" rx="6" ry="4" fill="#d62728"/><polyline points="425,88 500,86 560,96 620,116 685,142" fill="none" stroke="#2ca02c" stroke-width="12.15" stroke-linecap="round" stroke-linejoin="round"/><polyline points="430,78 500,75" fill="none" stroke="#1f77b4" stroke-width="8.1" stroke-linecap="round" stroke-linejoin="round"/><polyline points="430,90 480,95" fill="none" stroke="#d62728" stroke-width="8.1" stroke-linecap="round" stroke-linejoin="round"/><polyline points="500,82 560,91 620,111 685,136" fill="none" stroke="#000" stroke-width="5.0" stroke-linejoin="round" stroke-linecap="round"/><ellipse cx="545" cy="15" rx="8" ry="6" fill="#d62728"/><ellipse cx="578" cy="12" rx="6" ry="4" fill="#d62728"/><ellipse cx="590" cy="25" rx="4" ry="4" fill="#d62728"/><ellipse cx="555" cy="25" rx="5" ry="4" fill="#d62728"/><polyline points="560,50 590,40" fill="none" stroke="#1f77b4" stroke-width="8.1" stroke-linecap="round" stroke-linejoin="round"/><ellipse cx="620" cy="50" rx="10" ry="12" fill="#000"/><polygon points="600,70 625,55 640,75 650,95 630,110 605,100" fill="#1f77b4" stroke="#1f77b4" stroke-width="2" stroke-linejoin="round"/><polyline points="650,55 680,50" fill="none" stroke="#d62728" stroke-width="6.75" stroke-linecap="round" stroke-linejoin="round"/><ellipse cx="665" cy="45" rx="15" ry="12" fill="#ff7f0e"/><polyline points="650,50 680,40" fill="none" stroke="#000" stroke-width="5.5" stroke-linejoin="round" stroke-linecap="round"/><polyline points="600,100 620,115" fill="none" stroke="#d62728" stroke-width="6.75" stroke-linecap="round" stroke-linejoin="round"/><polyline points="620,85 660,100 685,110" fill="none" stroke="#000" stroke-width="6.0" stroke-linejoin="round" stroke-linecap="round"/><polyline points="640,115 685,130" fill="none" stroke="#ff7f0e" stroke-width="8.1" stroke-linecap="round" stroke-linejoin="round"/><polyline points="660,90 685,95" fill="none" stroke="#1f77b4" stroke-width="8.1" stroke-linecap="round" stroke-linejoin="round"/><polyline points="575,185 610,185" fill="none" stroke="#1f77b4" stroke-width="10.8" stroke-linecap="round" stroke-linejoin="round"/><polygon points="600,192 640,185 685,188 685,218 650,220 610,205" fill="#ff7f0e" stroke="#ff7f0e" stroke-width="2" stroke-linejoin="round"/><polyline points="245,268 300,275" fill="none" stroke="#1f77b4" stroke-width="10.8" stroke-linecap="round" stroke-linejoin="round"/><ellipse cx="322" cy="278" rx="10" ry="8" fill="#ff7f0e"/><polyline points="290,292 310,292" fill="none" stroke="#d62728" stroke-width="6.75" stroke-linecap="round" stroke-linejoin="round"/></g>
<g transform="translate(552,208) scale(0.166423)"><polygon points="0,35 40,28 90,25 110,35 90,55 60,65 20,62 0,55" fill="#ff7f0e" stroke="#ff7f0e" stroke-width="2" stroke-linejoin="round"/><polyline points="0,50 50,60 80,68" fill="none" stroke="#2ca02c" stroke-width="8.1" stroke-linecap="round" stroke-linejoin="round"/><polyline points="10,40 40,50 70,60" fill="none" stroke="#000" stroke-width="6.0" stroke-linejoin="round" stroke-linecap="round"/><ellipse cx="85" cy="25" rx="12" ry="4" fill="none" stroke="#000" stroke-width="5.0"/><polyline points="50,80 100,90" fill="none" stroke="#d62728" stroke-width="8.1" stroke-linecap="round" stroke-linejoin="round"/><polyline points="35,55 60,60" fill="none" stroke="#1f77b4" stroke-width="5.4" stroke-linecap="round" stroke-linejoin="round"/><polygon points="0,95 40,115 80,140 100,155 70,158 30,150 0,140" fill="#ff7f0e" stroke="#ff7f0e" stroke-width="2" stroke-linejoin="round"/><polyline points="0,110 50,130 90,148" fill="none" stroke="#2ca02c" stroke-width="8.1" stroke-linecap="round" stroke-linejoin="round"/><polyline points="0,130 40,145 70,155 95,150" fill="none" stroke="#000" stroke-width="6.0" stroke-linejoin="round" stroke-linecap="round"/><polyline points="0,140 20,148" fill="none" stroke="#000" stroke-width="5.5" stroke-linejoin="round" stroke-linecap="round"/><polygon points="0,200 40,200 65,205 40,215 0,218" fill="#ff7f0e" stroke="#ff7f0e" stroke-width="2" stroke-linejoin="round"/><polyline points="0,210 30,208" fill="none" stroke="#000" stroke-width="7.0" stroke-linejoin="round" stroke-linecap="round"/><polyline points="120,148 130,148" fill="none" stroke="#1f77b4" stroke-width="5.4" stroke-linecap="round" stroke-linejoin="round"/><polyline points="140,158 165,158" fill="none" stroke="#1f77b4" stroke-width="6.75" stroke-linecap="round" stroke-linejoin="round"/><polygon points="185,155 220,150 240,158 230,165 195,163" fill="#1f77b4" stroke="#1f77b4" stroke-width="2" stroke-linejoin="round"/><ellipse cx="240" cy="168" rx="8" ry="4" fill="#ff7f0e"/><polyline points="225,158 245,165 255,172" fill="none" stroke="#000" stroke-width="8.0" stroke-linejoin="round" stroke-linecap="round"/><ellipse cx="210" cy="78" rx="15" ry="6" fill="#ff7f0e"/><polyline points="215,75 235,80" fill="none" stroke="#000" stroke-width="6.0" stroke-linejoin="round" stroke-linecap="round"/><polyline points="195,85 220,85" fill="none" stroke="#1f77b4" stroke-width="5.4" stroke-linecap="round" stroke-linejoin="round"/><polygon points="250,110 290,100 340,100 380,108 410,112 420,125 400,145 360,150 320,158 290,150 270,130" fill="#ff7f0e" stroke="#ff7f0e" stroke-width="2" stroke-linejoin="round"/><polygon points="255,108 290,108 310,125 290,130" fill="#2ca02c" stroke="#2ca02c" stroke-width="2" stroke-linejoin="round"/><polyline points="280,115 300,125 320,130 340,125 360,135 380,130 400,120" fill="none" stroke="#000" stroke-width="6.0" stroke-linejoin="round" stroke-linecap="round"/><polyline points="330,140 360,148 380,145" fill="none" stroke="#000" stroke-width="5.5" stroke-linejoin="round" stroke-linecap="round"/><polyline points="240,100 270,102" fill="none" stroke="#d62728" stroke-width="8.1" stroke-linecap="round" stroke-linejoin="round"/><polyline points="270,108 300,110" fill="none" stroke="#000" stroke-width="10.8" stroke-linecap="round" stroke-linejoin="round"/><ellipse cx="305" cy="95" rx="6" ry="4" fill="#d62728"/><polygon points="275,30 290,18 310,20 320,30 300,38" fill="none" stroke="#000" stroke-width="5.5" stroke-linejoin="round"/><polyline points="235,35 270,35" fill="none" stroke="#1f77b4" stroke-width="8.1" stroke-linecap="round" stroke-linejoin="round"/><ellipse cx="285" cy="25" rx="6" ry="4" fill="#ff7f0e"/><polygon points="510,30 560,22 600,15 640,10 680,15 680,30 620,40 560,45 520,42" fill="#ff7f0e" stroke="#ff7f0e" stroke-width="2" stroke-linejoin="round"/><polyline points="540,32 600,25" fill="none" stroke="#2ca02c" stroke-width="8.1" stroke-linecap="round" stroke-linejoin="round"/><polyline points="580,20 620,15 660,18 685,22" fill="none" stroke="#000" stroke-width="6.0" stroke-linejoin="round" stroke-linecap="round"/><polyline points="500,55 560,50 620,48" fill="none" stroke="#d62728" stroke-width="10.8" stroke-linecap="round" stroke-linejoin="round"/><polyline points="530,45 620,45" fill="none" stroke="#1f77b4" stroke-width="8.1" stroke-linecap="round" stroke-linejoin="round"/><ellipse cx="540" cy="15" rx="5" ry="4" fill="#d62728"/><polyline points="590,38 630,35" fill="none" stroke="#2ca02c" stroke-width="6.75" stroke-linecap="round" stroke-linejoin="round"/><ellipse cx="575" cy="85" rx="6" ry="4" fill="#ff7f0e"/><polygon points="580,170 620,165 660,168 685,175 685,200 650,200 600,190" fill="#ff7f0e" stroke="#ff7f0e" stroke-width="2" stroke-linejoin="round"/><polyline points="545,190 600,200 640,208" fill="none" stroke="#d62728" stroke-width="8.1" stroke-linecap="round" stroke-linejoin="round"/><polyline points="580,198 620,205" fill="none" stroke="#2ca02c" stroke-width="6.75" stroke-linecap="round" stroke-linejoin="round"/><polyline points="560,200 620,210" fill="none" stroke="#1f77b4" stroke-width="6.75" stroke-linecap="round" stroke-linejoin="round"/><polyline points="600,185 640,195 660,205" fill="none" stroke="#000" stroke-width="6.0" stroke-linejoin="round" stroke-linecap="round"/><ellipse cx="640" cy="185" rx="8" ry="5" fill="#000"/><polyline points="620,155 650,152" fill="none" stroke="#d62728" stroke-width="6.75" stroke-linecap="round" stroke-linejoin="round"/><polygon points="620,210 660,215 685,220 685,260 660,260 640,240" fill="#1f77b4" stroke="#1f77b4" stroke-width="2" stroke-linejoin="round"/><polyline points="640,210 660,240" fill="none" stroke="#d62728" stroke-width="8.1" stroke-linecap="round" stroke-linejoin="round"/><polyline points="620,240 660,250" fill="none" stroke="#1f77b4" stroke-width="6.75" stroke-linecap="round" stroke-linejoin="round"/><polyline points="610,285 640,288" fill="none" stroke="#1f77b4" stroke-width="6.75" stroke-linecap="round" stroke-linejoin="round"/><polyline points="650,200 660,220" fill="none" stroke="#000" stroke-width="5.5" stroke-linejoin="round" stroke-linecap="round"/><polyline points="195,255 280,260" fill="none" stroke="#ff7f0e" stroke-width="8.1" stroke-linecap="round" stroke-linejoin="round"/><polyline points="230,255 260,255" fill="none" stroke="#1f77b4" stroke-width="5.4" stroke-linecap="round" stroke-linejoin="round"/><polyline points="270,260 290,262" fill="none" stroke="#000" stroke-width="6.0" stroke-linejoin="round" stroke-linecap="round"/><polyline points="290,262 340,262" fill="none" stroke="#2ca02c" stroke-width="10.8" stroke-linecap="round" stroke-linejoin="round"/><polyline points="310,265 340,265" fill="none" stroke="#000" stroke-width="6.0" stroke-linejoin="round" stroke-linecap="round"/><polyline points="340,262 410,262" fill="none" stroke="#ff7f0e" stroke-width="10.8" stroke-linecap="round" stroke-linejoin="round"/><ellipse cx="458" cy="278" rx="4" ry="3" fill="#d62728"/><polygon points="430,300 470,292 500,298 490,305 440,305" fill="#1f77b4" stroke="#1f77b4" stroke-width="2" stroke-linejoin="round"/><ellipse cx="490" cy="298" rx="10" ry="4" fill="#ff7f0e"/><polyline points="10,275 80,278" fill="none" stroke="#1f77b4" stroke-width="10.8" stroke-linecap="round" stroke-linejoin="round"/><polyline points="60,285 120,290" fill="none" stroke="#ff7f0e" stroke-width="10.8" stroke-linecap="round" stroke-linejoin="round"/><polyline points="40,298 90,300" fill="none" stroke="#d62728" stroke-width="10.8" stroke-linecap="round" stroke-linejoin="round"/><polyline points="30,310 60,312" fill="none" stroke="#1f77b4" stroke-width="6.75" stroke-linecap="round" stroke-linejoin="round"/><polyline points="50,295 80,300" fill="none" stroke="#2ca02c" stroke-width="5.4" stroke-linecap="round" stroke-linejoin="round"/><polyline points="80,295 100,305 120,318" fill="none" stroke="#000" stroke-width="8.0" stroke-linejoin="round" stroke-linecap="round"/><polyline points="30,288 60,290" fill="none" stroke="#000" stroke-width="5.5" stroke-linejoin="round" stroke-linecap="round"/><ellipse cx="195" cy="305" rx="3" ry="3" fill="#d62728"/><polyline points="340,338 390,338" fill="none" stroke="#ff7f0e" stroke-width="6.75" stroke-linecap="round" stroke-linejoin="round"/></g>
<g transform="translate(439,265) scale(0.166423)"><polyline points="490,30 580,42" fill="none" stroke="#ff7f0e" stroke-width="10.8" stroke-linecap="round" stroke-linejoin="round"/><polygon points="390,38 420,32 460,35 450,45 410,48" fill="#d62728" stroke="#d62728" stroke-width="2" stroke-linejoin="round"/><polyline points="420,50 450,55" fill="none" stroke="#1f77b4" stroke-width="8.1" stroke-linecap="round" stroke-linejoin="round"/><ellipse cx="435" cy="50" rx="6" ry="4" fill="#2ca02c"/><polyline points="415,30 440,30" fill="none" stroke="#000" stroke-width="4.0" stroke-linejoin="round" stroke-linecap="round"/><ellipse cx="535" cy="55" rx="5" ry="3" fill="#d62728"/><polyline points="255,45 300,42" fill="none" stroke="#1f77b4" stroke-width="8.1" stroke-linecap="round" stroke-linejoin="round"/><ellipse cx="262" cy="45" rx="5" ry="3" fill="#ff7f0e"/><ellipse cx="245" cy="75" rx="12" ry="6" fill="#d62728"/><ellipse cx="248" cy="82" rx="10" ry="4" fill="#1f77b4"/><ellipse cx="245" cy="100" rx="5" ry="3" fill="#d62728"/><polyline points="345,72 385,75" fill="none" stroke="#1f77b4" stroke-width="8.1" stroke-linecap="round" stroke-linejoin="round"/><polyline points="10,95 60,90 140,82" fill="none" stroke="#ff7f0e" stroke-width="13.5" stroke-linecap="round" stroke-linejoin="round"/><polyline points="15,100 60,95 90,90" fill="none" stroke="#000" stroke-width="5.5" stroke-linejoin="round" stroke-linecap="round"/><polygon points="340,105 380,98 420,105 520,102 530,110 440,115 380,112" fill="#ff7f0e" stroke="#ff7f0e" stroke-width="2" stroke-linejoin="round"/><polyline points="420,105 530,102" fill="none" stroke="#2ca02c" stroke-width="8.1" stroke-linecap="round" stroke-linejoin="round"/><polyline points="400,102 430,102" fill="none" stroke="#1f77b4" stroke-width="5.4" stroke-linecap="round" stroke-linejoin="round"/><polyline points="345,105 380,108 420,112" fill="none" stroke="#000" stroke-width="6.0" stroke-linejoin="round" stroke-linecap="round"/><polygon points="10,160 100,140 160,130 200,112 240,105 280,112 300,128 260,132 200,132 150,140 80,155 10,165" fill="#ff7f0e" stroke="#ff7f0e" stroke-width="2" stroke-linejoin="round"/><polyline points="210,118 240,122 260,125" fill="none" stroke="#000" stroke-width="6.0" stroke-linejoin="round" stroke-linecap="round"/><ellipse cx="235" cy="125" rx="8" ry="5" fill="#000"/><ellipse cx="280" cy="122" rx="4" ry="5" fill="#000"/><ellipse cx="120" cy="140" rx="4" ry="3" fill="#000"/><polygon points="525,170 600,162 660,162 640,172 560,178" fill="#ff7f0e" stroke="#ff7f0e" stroke-width="2" stroke-linejoin="round"/><polyline points="615,165 650,162" fill="none" stroke="#2ca02c" stroke-width="6.75" stroke-linecap="round" stroke-linejoin="round"/><ellipse cx="130" cy="182" rx="4" ry="3" fill="#000"/><polygon points="5,215 60,205 120,195 150,205 140,220 100,230 40,232 5,230" fill="#ff7f0e" stroke="#ff7f0e" stroke-width="2" stroke-linejoin="round"/><ellipse cx="100" cy="208" rx="12" ry="7" fill="#2ca02c"/><polyline points="5,225 30,225" fill="none" stroke="#2ca02c" stroke-width="10.8" stroke-linecap="round" stroke-linejoin="round"/><ellipse cx="155" cy="212" rx="5" ry="4" fill="#000"/><ellipse cx="325" cy="210" rx="20" ry="12" fill="#ff7f0e"/><polyline points="280,225 320,222" fill="none" stroke="#1f77b4" stroke-width="10.8" stroke-linecap="round" stroke-linejoin="round"/><ellipse cx="320" cy="218" rx="8" ry="5" fill="#2ca02c"/><ellipse cx="345" cy="218" rx="8" ry="6" fill="#000"/><ellipse cx="430" cy="235" rx="25" ry="10" fill="#ff7f0e"/><ellipse cx="410" cy="232" rx="12" ry="5" fill="#1f77b4"/><polyline points="385,242 420,245" fill="none" stroke="#d62728" stroke-width="8.1" stroke-linecap="round" stroke-linejoin="round"/><ellipse cx="445" cy="236" rx="10" ry="4" fill="#000"/><ellipse cx="425" cy="228" rx="5" ry="3" fill="#2ca02c"/><ellipse cx="570" cy="235" rx="50" ry="14" fill="#ff7f0e"/><ellipse cx="555" cy="225" rx="10" ry="4" fill="#2ca02c"/><polyline points="560,240 580,238 600,230 610,235" fill="none" stroke="#000" stroke-width="6.0" stroke-linejoin="round" stroke-linecap="round"/><ellipse cx="600" cy="230" rx="8" ry="6" fill="none" stroke="#000" stroke-width="4.0"/><polygon points="5,320 50,308 100,302 200,298 300,302 420,310 500,318 580,322 685,322 685,342 5,342" fill="#ff7f0e" stroke="#ff7f0e" stroke-width="2" stroke-linejoin="round"/><polyline points="100,305 260,302" fill="none" stroke="#2ca02c" stroke-width="8.1" stroke-linecap="round" stroke-linejoin="round"/><polyline points="10,325 60,315 100,305 150,302 200,300" fill="none" stroke="#000" stroke-width="6.0" stroke-linejoin="round" stroke-linecap="round"/><ellipse cx="240" cy="300" rx="8" ry="4" fill="#000"/><ellipse cx="310" cy="302" rx="8" ry="5" fill="#000"/><polyline points="180,298 220,298" fill="none" stroke="#1f77b4" stroke-width="6.75" stroke-linecap="round" stroke-linejoin="round"/><polyline points="90,328 200,332" fill="none" stroke="#d62728" stroke-width="10.8" stroke-linecap="round" stroke-linejoin="round"/><polyline points="200,320 240,325" fill="none" stroke="#1f77b4" stroke-width="6.75" stroke-linecap="round" stroke-linejoin="round"/><ellipse cx="420" cy="320" rx="5" ry="3" fill="#000"/><polyline points="300,320 480,325" fill="none" stroke="#ff7f0e" stroke-width="8.1" stroke-linecap="round" stroke-linejoin="round"/></g>
<g transform="translate(552,265) scale(0.166423)"><polyline points="0,5 60,15 130,22" fill="none" stroke="#ff7f0e" stroke-width="10.8" stroke-linecap="round" stroke-linejoin="round"/><ellipse cx="40" cy="8" rx="8" ry="4" fill="#000"/><polyline points="120,35 170,55" fill="none" stroke="#ff7f0e" stroke-width="13.5" stroke-linecap="round" stroke-linejoin="round"/><ellipse cx="170" cy="55" rx="12" ry="6" fill="none" stroke="#000" stroke-width="5.0"/><polyline points="200,52 300,55" fill="none" stroke="#2ca02c" stroke-width="6.75" stroke-linecap="round" stroke-linejoin="round"/><polyline points="190,55 260,58 330,65 400,78" fill="none" stroke="#000" stroke-width="8.0" stroke-linejoin="round" stroke-linecap="round"/><polyline points="270,55 330,62 370,68" fill="none" stroke="#1f77b4" stroke-width="8.1" stroke-linecap="round" stroke-linejoin="round"/><polyline points="400,80 465,88" fill="none" stroke="#ff7f0e" stroke-width="8.1" stroke-linecap="round" stroke-linejoin="round"/><ellipse cx="278" cy="40" rx="4" ry="4" fill="#d62728"/><polygon points="320,5 400,3 500,8 600,8 685,5 685,20 600,22 500,20 420,15 340,10" fill="#ff7f0e" stroke="#ff7f0e" stroke-width="2" stroke-linejoin="round"/><polyline points="480,12 540,10 600,12 660,15" fill="none" stroke="#000" stroke-width="7.0" stroke-linejoin="round" stroke-linecap="round"/><polyline points="600,12 685,12" fill="none" stroke="#2ca02c" stroke-width="10.8" stroke-linecap="round" stroke-linejoin="round"/><polygon points="545,72 600,58 650,48 680,42 685,60 650,70 600,75" fill="#ff7f0e" stroke="#ff7f0e" stroke-width="2" stroke-linejoin="round"/><polygon points="630,60 660,50 680,45 678,58 650,65" fill="none" stroke="#000" stroke-width="5.5" stroke-linejoin="round"/><polyline points="675,100 685,100" fill="none" stroke="#1f77b4" stroke-width="6.75" stroke-linecap="round" stroke-linejoin="round"/><polyline points="500,200 530,200" fill="none" stroke="#ff7f0e" stroke-width="6.75" stroke-linecap="round" stroke-linejoin="round"/><polyline points="600,212 640,228 675,240" fill="none" stroke="#ff7f0e" stroke-width="9.45" stroke-linecap="round" stroke-linejoin="round"/><polyline points="140,282 260,282" fill="none" stroke="#ff7f0e" stroke-width="9.45" stroke-linecap="round" stroke-linejoin="round"/><polyline points="150,285 190,288" fill="none" stroke="#2ca02c" stroke-width="6.75" stroke-linecap="round" stroke-linejoin="round"/><polyline points="0,325 40,320 70,320" fill="none" stroke="#000" stroke-width="8.0" stroke-linejoin="round" stroke-linecap="round"/><polyline points="50,320 90,320" fill="none" stroke="#1f77b4" stroke-width="8.1" stroke-linecap="round" stroke-linejoin="round"/><polyline points="20,325 50,322" fill="none" stroke="#2ca02c" stroke-width="5.4" stroke-linecap="round" stroke-linejoin="round"/><polyline points="0,335 20,335" fill="none" stroke="#ff7f0e" stroke-width="6.75" stroke-linecap="round" stroke-linejoin="round"/><polyline points="390,335 420,335" fill="none" stroke="#ff7f0e" stroke-width="5.4" stroke-linecap="round" stroke-linejoin="round"/><polyline points="350,338 400,338" fill="none" stroke="#1f77b4" stroke-width="5.4" stroke-linecap="round" stroke-linejoin="round"/></g>
<g transform="translate(0,0) scale(1.0)"><polygon points="440,266 450,264 465,262.5 490,262 520,262 545,262.5 560,264 568,266 572,269 560,269.5 540,268.5 510,268.3 480,268.3 460,269 448,271 440,272.5" fill="#ff7f0e" stroke="#ff7f0e" stroke-width="2" stroke-linejoin="round"/><polyline points="520,265.5 548,265.5" fill="none" stroke="#2ca02c" stroke-width="2.16" stroke-linecap="round" stroke-linejoin="round"/><polyline points="500,263 520,263" fill="none" stroke="#1f77b4" stroke-width="1.08" stroke-linecap="round" stroke-linejoin="round"/><polyline points="440,267.5 452,264.5 470,263 500,262.5 530,262.6 552,263 566,265.5 572,268.5" fill="none" stroke="#000" stroke-width="1.1" stroke-linejoin="round" stroke-linecap="round"/><polyline points="440,272 455,269.5 480,268.6 520,268.5 548,268.8 565,269.6" fill="none" stroke="#000" stroke-width="1.0" stroke-linejoin="round" stroke-linecap="round"/><polyline points="447,267 452,264.5 458,267" fill="none" stroke="#000" stroke-width="0.6" stroke-linejoin="round" stroke-linecap="round"/><polyline points="489,263 497,263.5" fill="none" stroke="#d62728" stroke-width="1.08" stroke-linecap="round" stroke-linejoin="round"/></g>
</g>
<g stroke="#000" stroke-width="0.6" fill="none">
<path d="M439.2,208.5H665.3M439.2,321.5H665.3M439.5,208.5V321.5M665.0,208.5V321.5"/>
<path d="M436.70,208.50H439.5M514.67,321.5V324.10M436.70,265.00H439.5M589.83,321.5V324.10M436.70,321.50H439.5M665.00,321.5V324.10"/>
</g>
<text transform="matrix(0.19852,0,0,0.17042,392.11,214.73)" font-size="100" stroke="#000" stroke-width="1.36" >1103</text>
<text transform="matrix(0.19108,0,0,0.17042,403.04,271.23)" font-size="100" stroke="#000" stroke-width="1.38" >773</text>
<text transform="matrix(0.18750,0,0,0.17042,403.62,327.73)" font-size="100" stroke="#000" stroke-width="1.40" >443</text>
<text transform="matrix(0.19190,0,0,0.16479,493.08,338.84)" font-size="100" stroke="#000" stroke-width="1.40" >1769</text>
<text transform="matrix(0.18920,0,0,0.16479,568.84,338.84)" font-size="100" stroke="#000" stroke-width="1.41" >2209</text>
<text transform="matrix(0.18920,0,0,0.16479,644.00,338.84)" font-size="100" stroke="#000" stroke-width="1.41" >2649</text>
<text transform="matrix(0.17857,0,0,0.16415,540.16,357.40)" font-size="100" stroke="#000" stroke-width="1.46" font-style="italic">x</text>
<text transform="matrix(0.15625,0,0,0.16122,552.67,353.65)" font-size="100" stroke="#000" stroke-width="1.57" >+</text>
<text transform="matrix(0,-0.19184,0.17547,0,386.10,277.20)" font-size="100" stroke="#000" stroke-width="1.36" font-style="italic">z</text>
<text transform="matrix(0,-0.16458,0.15510,0,381.40,265.12)" font-size="100" stroke="#000" stroke-width="1.56" >+</text>
<text transform="matrix(0.17000,0,0,0.17973,519.05,203.73)" font-size="100" stroke="#000" stroke-width="1.43" font-style="italic">y</text>
<text transform="matrix(0.16042,0,0,0.13673,531.70,199.03)" font-size="100" stroke="#000" stroke-width="1.68" >+</text>
<path d="M549.50,197.75 C551.70,195.45 553.10,196.45 554.35,197.05 S557.00,198.65 559.20,196.35" stroke="#000" stroke-width="1.35" fill="none" stroke-linecap="round"/>
<rect x="549.10" y="199.90" width="10.4" height="1.4" fill="#000"/>
<text transform="matrix(0.18283,0,0,0.15775,564.54,203.14)" font-size="100" stroke="#000" stroke-width="1.47" >13</text>
<text transform="matrix(0.24400,0,0,0.20857,361.72,218.89)" font-size="100" stroke="#000" stroke-width="0.00" font-family="Liberation Serif" font-weight="bold">d</text>
<text transform="matrix(0.25000,0,0,0.22667,375.45,219.04)" font-size="100" stroke="#000" stroke-width="0.21" font-family="Liberation Serif">)</text>
<g>
<g transform="translate(76,398) scale(0.166423)"><polygon points="72,42 90,38 102,48 95,55 78,52" fill="none" stroke="#000" stroke-width="5.5" stroke-linejoin="round"/><ellipse cx="95" cy="42" rx="4" ry="3" fill="#d62728"/><ellipse cx="133" cy="18" rx="4" ry="3" fill="#000"/><ellipse cx="22" cy="160" rx="12" ry="8" fill="#1f77b4"/><polyline points="140,275 180,268" fill="none" stroke="#1f77b4" stroke-width="10.8" stroke-linecap="round" stroke-linejoin="round"/><polyline points="175,258 200,258" fill="none" stroke="#d62728" stroke-width="8.1" stroke-linecap="round" stroke-linejoin="round"/><ellipse cx="250" cy="325" rx="12" ry="14" fill="#1f77b4"/><polyline points="328,318 345,318" fill="none" stroke="#d62728" stroke-width="6.75" stroke-linecap="round" stroke-linejoin="round"/><ellipse cx="545" cy="38" rx="8" ry="5" fill="#d62728"/><polygon points="545,55 570,50 595,65 600,80 590,90 570,85 550,70" fill="#1f77b4" stroke="#1f77b4" stroke-width="2" stroke-linejoin="round"/><ellipse cx="565" cy="70" rx="10" ry="6" fill="#9467bd"/><ellipse cx="590" cy="100" rx="8" ry="4" fill="#d62728"/><ellipse cx="615" cy="42" rx="5" ry="5" fill="#1f77b4"/><polyline points="640,40 640,70" fill="none" stroke="#d62728" stroke-width="6.75" stroke-linecap="round" stroke-linejoin="round"/><polygon points="460,240 500,240 540,245 575,255 580,280 560,285 520,280 490,260" fill="#1f77b4" stroke="#1f77b4" stroke-width="2" stroke-linejoin="round"/><ellipse cx="500" cy="255" rx="12" ry="6" fill="#9467bd"/><ellipse cx="575" cy="248" rx="4" ry="6" fill="#d62728"/><polygon points="458,230 475,225 500,235 510,245 490,248 465,242" fill="none" stroke="#000" stroke-width="5.5" stroke-linejoin="round"/><polygon points="600,240 630,210 660,195 685,185 685,210 660,240 640,260 610,262" fill="#1f77b4" stroke="#1f77b4" stroke-width="2" stroke-linejoin="round"/><polygon points="620,225 650,215 670,230 660,250 635,255" fill="#d62728" stroke="#d62728" stroke-width="2" stroke-linejoin="round"/><ellipse cx="630" cy="235" rx="8" ry="6" fill="#2ca02c"/><polyline points="600,235 630,205 665,190 685,185" fill="none" stroke="#000" stroke-width="6.0" stroke-linejoin="round" stroke-linecap="round"/><polyline points="605,245 630,255 650,245" fill="none" stroke="#000" stroke-width="5.5" stroke-linejoin="round" stroke-linecap="round"/><ellipse cx="665" cy="245" rx="6" ry="8" fill="none" stroke="#000" stroke-width="4.0"/><ellipse cx="655" cy="260" rx="6" ry="5" fill="#d62728"/><ellipse cx="660" cy="300" rx="8" ry="6" fill="#d62728"/><ellipse cx="670" cy="300" rx="6" ry="6" fill="none" stroke="#000" stroke-width="4.0"/><ellipse cx="680" cy="330" rx="4" ry="8" fill="#d62728"/></g>
<g transform="translate(189,398) scale(0.166423)"><polygon points="310,8 380,8 400,40 410,80 400,95 370,90 340,50" fill="#1f77b4" stroke="#1f77b4" stroke-width="2" stroke-linejoin="round"/><polyline points="330,15 370,30 390,60" fill="none" stroke="#9467bd" stroke-width="13.5" stroke-linecap="round" stroke-linejoin="round"/><polyline points="340,15 370,35" fill="none" stroke="#2ca02c" stroke-width="8.1" stroke-linecap="round" stroke-linejoin="round"/><polyline points="330,10 360,40 385,80 400,90" fill="none" stroke="#000" stroke-width="5.5" stroke-linejoin="round" stroke-linecap="round"/><ellipse cx="375" cy="95" rx="6" ry="4" fill="#d62728"/><polygon points="420,15 460,10 480,20 470,35 430,35" fill="#d62728" stroke="#d62728" stroke-width="2" stroke-linejoin="round"/><polygon points="430,42 470,42 520,50 510,58 460,58 430,55" fill="#2ca02c" stroke="#2ca02c" stroke-width="2" stroke-linejoin="round"/><polyline points="420,45 520,60" fill="none" stroke="#9467bd" stroke-width="8.1" stroke-linecap="round" stroke-linejoin="round"/><polyline points="420,60 470,70 520,78" fill="none" stroke="#1f77b4" stroke-width="10.8" stroke-linecap="round" stroke-linejoin="round"/><polygon points="400,40 410,20 440,15 480,18 520,25 550,40 540,55 500,60 460,55 420,55" fill="none" stroke="#000" stroke-width="5.5" stroke-linejoin="round"/><polyline points="420,60 470,75 510,80" fill="none" stroke="#000" stroke-width="5.5" stroke-linejoin="round" stroke-linecap="round"/><polygon points="540,20 580,10 620,8 630,25 620,60 600,80 570,82 550,60" fill="#1f77b4" stroke="#1f77b4" stroke-width="2" stroke-linejoin="round"/><polyline points="560,70 590,45 610,20" fill="none" stroke="#000" stroke-width="5.5" stroke-linejoin="round" stroke-linecap="round"/><polyline points="545,75 590,55" fill="none" stroke="#d62728" stroke-width="8.1" stroke-linecap="round" stroke-linejoin="round"/><ellipse cx="630" cy="40" rx="8" ry="8" fill="#d62728"/><ellipse cx="600" cy="15" rx="5" ry="4" fill="#d62728"/><ellipse cx="545" cy="10" rx="10" ry="5" fill="#1f77b4"/><ellipse cx="420" cy="10" rx="8" ry="5" fill="#d62728"/><ellipse cx="587" cy="153" rx="5" ry="4" fill="#d62728"/><ellipse cx="635" cy="210" rx="15" ry="10" fill="#1f77b4"/><ellipse cx="625" cy="228" rx="4" ry="4" fill="#d62728"/><ellipse cx="395" cy="205" rx="18" ry="8" fill="#1f77b4"/><ellipse cx="405" cy="185" rx="4" ry="4" fill="#d62728"/><polygon points="80,215 110,210 160,222 230,232 255,235 250,260 210,278 170,278 120,260 90,245" fill="#2ca02c" stroke="#2ca02c" stroke-width="2" stroke-linejoin="round"/><polygon points="150,212 210,220 258,224 268,242 240,246 200,238 160,226" fill="#1f77b4" stroke="#1f77b4" stroke-width="2" stroke-linejoin="round"/><polyline points="200,230 260,238" fill="none" stroke="#9467bd" stroke-width="8.1" stroke-linecap="round" stroke-linejoin="round"/><polygon points="120,272 180,286 230,284 265,268 300,262 290,274 245,292 180,297 125,288" fill="#1f77b4" stroke="#1f77b4" stroke-width="2" stroke-linejoin="round"/><ellipse cx="75" cy="225" rx="8" ry="10" fill="#ff7f0e"/><polygon points="100,200 130,205 120,215 100,212" fill="#1f77b4" stroke="#1f77b4" stroke-width="2" stroke-linejoin="round"/><polygon points="55,205 65,185 90,180 105,195 150,215 210,225 255,225 270,240 250,270 220,285 180,285 130,270 80,245 60,225" fill="none" stroke="#000" stroke-width="5.5" stroke-linejoin="round"/><polyline points="240,225 280,220 305,205" fill="none" stroke="#9467bd" stroke-width="8.1" stroke-linecap="round" stroke-linejoin="round"/><ellipse cx="310" cy="205" rx="6" ry="5" fill="#d62728"/><polyline points="255,260 300,262" fill="none" stroke="#1f77b4" stroke-width="10.8" stroke-linecap="round" stroke-linejoin="round"/><polyline points="120,285 180,292" fill="none" stroke="#1f77b4" stroke-width="8.1" stroke-linecap="round" stroke-linejoin="round"/><ellipse cx="15" cy="190" rx="12" ry="10" fill="#d62728"/><ellipse cx="5" cy="195" rx="6" ry="8" fill="none" stroke="#000" stroke-width="4.0"/><ellipse cx="25" cy="205" rx="8" ry="4" fill="#1f77b4"/><ellipse cx="65" cy="260" rx="10" ry="10" fill="#d62728"/><polygon points="50,280 80,275 90,300 70,305 55,295" fill="#1f77b4" stroke="#1f77b4" stroke-width="2" stroke-linejoin="round"/><ellipse cx="72" cy="322" rx="5" ry="4" fill="#d62728"/><ellipse cx="120" cy="192" rx="5" ry="3" fill="#1f77b4"/><ellipse cx="150" cy="300" rx="5" ry="3" fill="#d62728"/><polyline points="455,275 465,300 470,330" fill="none" stroke="#d62728" stroke-width="13.5" stroke-linecap="round" stroke-linejoin="round"/><polyline points="460,295 470,320" fill="none" stroke="#1f77b4" stroke-width="8.1" stroke-linecap="round" stroke-linejoin="round"/><ellipse cx="0" cy="325" rx="4" ry="3" fill="#d62728"/></g>
<g transform="translate(76,455) scale(0.166423)"><ellipse cx="240" cy="8" rx="12" ry="10" fill="#1f77b4"/><ellipse cx="238" cy="12" rx="6" ry="6" fill="#9467bd"/><ellipse cx="222" cy="28" rx="5" ry="4" fill="#000"/><ellipse cx="285" cy="8" rx="5" ry="4" fill="#d62728"/><ellipse cx="15" cy="100" rx="12" ry="12" fill="#d62728"/><ellipse cx="100" cy="68" rx="8" ry="6" fill="#d62728"/><ellipse cx="90" cy="75" rx="6" ry="4" fill="#000"/><ellipse cx="135" cy="80" rx="6" ry="4" fill="#d62728"/><ellipse cx="185" cy="68" rx="5" ry="3" fill="#d62728"/><polygon points="90,95 120,90 150,98 180,92 205,95 200,120 205,140 180,150 150,148 120,125 95,110" fill="#1f77b4" stroke="#1f77b4" stroke-width="2" stroke-linejoin="round"/><ellipse cx="130" cy="130" rx="4" ry="3" fill="#000"/><ellipse cx="262" cy="95" rx="10" ry="6" fill="#d62728"/><ellipse cx="260" cy="158" rx="6" ry="6" fill="#d62728"/><ellipse cx="272" cy="145" rx="6" ry="5" fill="#1f77b4"/><polygon points="290,115 310,98 330,100 350,115 380,140 400,162 370,160 330,150 300,135" fill="#1f77b4" stroke="#1f77b4" stroke-width="2" stroke-linejoin="round"/><polygon points="310,95 330,92 355,110 360,125 340,120 320,105" fill="#d62728" stroke="#d62728" stroke-width="2" stroke-linejoin="round"/><ellipse cx="310" cy="125" rx="8" ry="6" fill="#000"/><ellipse cx="425" cy="120" rx="12" ry="8" fill="#d62728"/><ellipse cx="455" cy="140" rx="8" ry="5" fill="#d62728"/><polyline points="430,162 460,158" fill="none" stroke="#1f77b4" stroke-width="8.1" stroke-linecap="round" stroke-linejoin="round"/><ellipse cx="460" cy="158" rx="5" ry="3" fill="#000"/><polyline points="410,108 430,108" fill="none" stroke="#1f77b4" stroke-width="6.75" stroke-linecap="round" stroke-linejoin="round"/><polygon points="420,15 460,15 500,30 540,45 560,60 540,70 500,60 450,45 420,35" fill="#d62728" stroke="#d62728" stroke-width="2" stroke-linejoin="round"/><polygon points="415,35 450,38 500,55 530,75 510,85 480,70 440,55" fill="#1f77b4" stroke="#1f77b4" stroke-width="2" stroke-linejoin="round"/><polygon points="440,40 470,45 510,65 500,75 470,60 440,48" fill="none" stroke="#000" stroke-width="5.5" stroke-linejoin="round"/><polygon points="515,40 535,20 555,35 580,60 570,75 540,100 520,95 510,70" fill="none" stroke="#000" stroke-width="5.5" stroke-linejoin="round"/><ellipse cx="535" cy="75" rx="6" ry="5" fill="#2ca02c"/><ellipse cx="520" cy="95" rx="8" ry="5" fill="#d62728"/><polygon points="500,112 540,115 555,125 540,132" fill="#1f77b4" stroke="#1f77b4" stroke-width="2" stroke-linejoin="round"/><polygon points="495,112 520,112 550,125 530,135 505,125" fill="none" stroke="#000" stroke-width="5.5" stroke-linejoin="round"/><ellipse cx="565" cy="22" rx="6" ry="5" fill="#d62728"/><ellipse cx="595" cy="65" rx="5" ry="5" fill="#d62728"/><ellipse cx="490" cy="125" rx="8" ry="5" fill="#d62728"/><polyline points="10,270 30,255" fill="none" stroke="#1f77b4" stroke-width="10.8" stroke-linecap="round" stroke-linejoin="round"/><ellipse cx="15" cy="290" rx="8" ry="6" fill="#d62728"/><polygon points="210,300 240,285 270,280 290,295 285,315 270,330 240,335 220,325" fill="#d62728" stroke="#d62728" stroke-width="2" stroke-linejoin="round"/><polygon points="225,305 260,295 280,305 270,325 240,330" fill="#1f77b4" stroke="#1f77b4" stroke-width="2" stroke-linejoin="round"/><polygon points="225,300 250,295 275,310 265,325 240,325 228,315" fill="none" stroke="#000" stroke-width="5.5" stroke-linejoin="round"/><polyline points="270,320 290,325" fill="none" stroke="#000" stroke-width="5.5" stroke-linejoin="round" stroke-linecap="round"/><polyline points="410,335 430,335" fill="none" stroke="#1f77b4" stroke-width="8.1" stroke-linecap="round" stroke-linejoin="round"/><polyline points="350,338 380,338" fill="none" stroke="#1f77b4" stroke-width="5.4" stroke-linecap="round" stroke-linejoin="round"/></g>
<g transform="translate(189,455) scale(0.166423)"><polyline points="55,40 90,65" fill="none" stroke="#1f77b4" stroke-width="16.2" stroke-linecap="round" stroke-linejoin="round"/><ellipse cx="265" cy="15" rx="10" ry="12" fill="#d62728"/><ellipse cx="290" cy="20" rx="4" ry="3" fill="#000"/><ellipse cx="315" cy="40" rx="10" ry="8" fill="#d62728"/><ellipse cx="290" cy="5" rx="5" ry="4" fill="#d62728"/><polyline points="455,20 485,10" fill="none" stroke="#1f77b4" stroke-width="13.5" stroke-linecap="round" stroke-linejoin="round"/><ellipse cx="460" cy="8" rx="6" ry="5" fill="#d62728"/><ellipse cx="600" cy="125" rx="8" ry="5" fill="#d62728"/><ellipse cx="630" cy="105" rx="6" ry="6" fill="#d62728"/><ellipse cx="655" cy="145" rx="8" ry="12" fill="#d62728"/><ellipse cx="660" cy="140" rx="5" ry="5" fill="#1f77b4"/><polygon points="155,185 180,178 210,190 200,200 170,195" fill="#1f77b4" stroke="#1f77b4" stroke-width="2" stroke-linejoin="round"/><polygon points="140,195 175,190 200,200 205,210 170,205 145,200" fill="#d62728" stroke="#d62728" stroke-width="2" stroke-linejoin="round"/><polygon points="120,195 130,192 135,200 125,205" fill="none" stroke="#000" stroke-width="5.5" stroke-linejoin="round"/><ellipse cx="180" cy="182" rx="5" ry="3" fill="#000"/><ellipse cx="90" cy="200" rx="4" ry="5" fill="#d62728"/><ellipse cx="98" cy="222" rx="3" ry="3" fill="#d62728"/><ellipse cx="108" cy="285" rx="4" ry="6" fill="#d62728"/><ellipse cx="60" cy="315" rx="4" ry="3" fill="#d62728"/><ellipse cx="50" cy="338" rx="6" ry="4" fill="#d62728"/><polygon points="425,215 450,185 480,160 510,160 510,185 480,210 455,230 430,225" fill="#1f77b4" stroke="#1f77b4" stroke-width="2" stroke-linejoin="round"/><polygon points="445,225 470,200 490,185 500,195 480,215 460,235" fill="#d62728" stroke="#d62728" stroke-width="2" stroke-linejoin="round"/><polygon points="430,215 455,190 480,178 490,185 465,205 440,222" fill="none" stroke="#000" stroke-width="5.5" stroke-linejoin="round"/><ellipse cx="515" cy="182" rx="5" ry="3" fill="#000"/><ellipse cx="435" cy="238" rx="4" ry="3" fill="#000"/><ellipse cx="430" cy="258" rx="6" ry="5" fill="#d62728"/><ellipse cx="475" cy="245" rx="12" ry="10" fill="#1f77b4"/><polygon points="455,250 490,245 495,270 480,280 460,275" fill="#d62728" stroke="#d62728" stroke-width="2" stroke-linejoin="round"/><polygon points="458,275 480,272 488,280 480,290 462,288" fill="none" stroke="#000" stroke-width="5.5" stroke-linejoin="round"/><ellipse cx="485" cy="243" rx="6" ry="5" fill="#000"/><polygon points="555,228 600,225 640,230 638,255 590,255 558,250" fill="#1f77b4" stroke="#1f77b4" stroke-width="2" stroke-linejoin="round"/><ellipse cx="570" cy="255" rx="12" ry="8" fill="#d62728"/><ellipse cx="572" cy="210" rx="10" ry="4" fill="#d62728"/><ellipse cx="660" cy="245" rx="8" ry="12" fill="#d62728"/></g>
</g>
<g stroke="#000" stroke-width="0.6" fill="none">
<path d="M76.2,399.0H302.8M76.2,511.6H302.8M76.5,399.0V511.6M302.5,399.0V511.6"/>
<path d="M73.70,399.00H76.5M151.83,511.6V514.20M73.70,455.30H76.5M227.17,511.6V514.20M73.70,511.60H76.5M302.50,511.6V514.20"/>
</g>
<text transform="matrix(0.19190,0,0,0.17042,29.16,405.23)" font-size="100" stroke="#000" stroke-width="1.38" >1030</text>
<text transform="matrix(0.19108,0,0,0.17286,40.04,461.70)" font-size="100" stroke="#000" stroke-width="1.37" >722</text>
<text transform="matrix(0.18519,0,0,0.17536,40.63,518.00)" font-size="100" stroke="#000" stroke-width="1.39" >414</text>
<text transform="matrix(0.19190,0,0,0.16479,130.25,528.94)" font-size="100" stroke="#000" stroke-width="1.40" >1650</text>
<text transform="matrix(0.19009,0,0,0.16479,206.17,528.94)" font-size="100" stroke="#000" stroke-width="1.41" >2061</text>
<text transform="matrix(0.19009,0,0,0.16714,281.50,529.10)" font-size="100" stroke="#000" stroke-width="1.40" >2471</text>
<text transform="matrix(0.17857,0,0,0.16415,177.41,547.50)" font-size="100" stroke="#000" stroke-width="1.46" font-style="italic">x</text>
<text transform="matrix(0.15625,0,0,0.16122,189.92,543.75)" font-size="100" stroke="#000" stroke-width="1.57" >+</text>
<text transform="matrix(0,-0.19184,0.17547,0,23.10,467.70)" font-size="100" stroke="#000" stroke-width="1.36" font-style="italic">z</text>
<text transform="matrix(0,-0.16458,0.15510,0,18.40,455.62)" font-size="100" stroke="#000" stroke-width="1.56" >+</text>
<text transform="matrix(0.17000,0,0,0.17973,156.30,394.23)" font-size="100" stroke="#000" stroke-width="1.43" font-style="italic">y</text>
<text transform="matrix(0.16042,0,0,0.13673,168.95,389.53)" font-size="100" stroke="#000" stroke-width="1.68" >+</text>
<path d="M186.75,388.25 C188.95,385.95 190.35,386.95 191.60,387.55 S194.25,389.15 196.45,386.85" stroke="#000" stroke-width="1.35" fill="none" stroke-linecap="round"/>
<rect x="186.35" y="390.40" width="10.4" height="1.4" fill="#000"/>
<text transform="matrix(0.17745,0,0,0.15775,202.54,393.64)" font-size="100" stroke="#000" stroke-width="1.49" >81</text>
<text transform="matrix(0.26923,0,0,0.23542,-1.41,409.56)" font-size="100" stroke="#000" stroke-width="0.00" font-family="Liberation Serif" font-weight="bold">e</text>
<text transform="matrix(0.25385,0,0,0.23444,10.14,409.98)" font-size="100" stroke="#000" stroke-width="0.20" font-family="Liberation Serif">)</text>
<g>
<g transform="translate(439,398) scale(0.166423)"><ellipse cx="12" cy="30" rx="8" ry="12" fill="#1f77b4"/><ellipse cx="15" cy="135" rx="10" ry="12" fill="#d62728"/><polyline points="15,200 50,170 95,130" fill="none" stroke="#1f77b4" stroke-width="18.9" stroke-linecap="round" stroke-linejoin="round"/><ellipse cx="20" cy="195" rx="5" ry="4" fill="#000"/><ellipse cx="132" cy="135" rx="15" ry="15" fill="#1f77b4"/><ellipse cx="185" cy="20" rx="6" ry="5" fill="#d62728"/><polygon points="200,30 250,20 300,15 350,15 380,22 360,40 300,50 250,52 210,45" fill="#d62728" stroke="#d62728" stroke-width="2" stroke-linejoin="round"/><polyline points="220,40 280,35 320,30" fill="none" stroke="#1f77b4" stroke-width="10.8" stroke-linecap="round" stroke-linejoin="round"/><ellipse cx="260" cy="15" rx="10" ry="5" fill="#9467bd"/><ellipse cx="320" cy="45" rx="8" ry="6" fill="#2ca02c"/><polyline points="220,30 260,25 300,22 340,25 380,30" fill="none" stroke="#000" stroke-width="5.5" stroke-linejoin="round" stroke-linecap="round"/><polyline points="240,45 290,42" fill="none" stroke="#000" stroke-width="5.5" stroke-linejoin="round" stroke-linecap="round"/><ellipse cx="355" cy="20" rx="6" ry="4" fill="none" stroke="#000" stroke-width="3.0"/><polyline points="280,55 320,58" fill="none" stroke="#1f77b4" stroke-width="8.1" stroke-linecap="round" stroke-linejoin="round"/><polyline points="355,50 380,52" fill="none" stroke="#1f77b4" stroke-width="6.75" stroke-linecap="round" stroke-linejoin="round"/><polygon points="400,40 430,30 440,45 420,55" fill="#d62728" stroke="#d62728" stroke-width="2" stroke-linejoin="round"/><polygon points="450,30 480,25 500,40 490,55 470,50" fill="#d62728" stroke="#d62728" stroke-width="2" stroke-linejoin="round"/><polygon points="385,40 400,25 430,15 470,18 500,30 510,55 495,75 470,78 440,70 410,68 395,55" fill="none" stroke="#000" stroke-width="5.5" stroke-linejoin="round"/><ellipse cx="450" cy="50" rx="10" ry="6" fill="none" stroke="#000" stroke-width="4.0"/><ellipse cx="490" cy="65" rx="6" ry="4" fill="#ff7f0e"/><ellipse cx="470" cy="40" rx="5" ry="4" fill="#1f77b4"/><ellipse cx="410" cy="15" rx="8" ry="5" fill="#d62728"/><ellipse cx="460" cy="15" rx="5" ry="3" fill="#ff7f0e"/><polygon points="195,65 230,68 240,78 210,80" fill="#d62728" stroke="#d62728" stroke-width="2" stroke-linejoin="round"/><polyline points="520,20 580,30" fill="none" stroke="#1f77b4" stroke-width="13.5" stroke-linecap="round" stroke-linejoin="round"/><polyline points="560,12 600,15" fill="none" stroke="#1f77b4" stroke-width="8.1" stroke-linecap="round" stroke-linejoin="round"/><polyline points="600,15 660,15" fill="none" stroke="#000" stroke-width="5.5" stroke-linejoin="round" stroke-linecap="round"/><ellipse cx="545" cy="60" rx="6" ry="5" fill="#1f77b4"/><polygon points="520,95 545,82 580,80 590,92 560,102 525,102" fill="none" stroke="#000" stroke-width="5.5" stroke-linejoin="round"/><ellipse cx="572" cy="72" rx="6" ry="4" fill="#d62728"/><polygon points="590,90 640,80 685,85 685,100 640,100" fill="#1f77b4" stroke="#1f77b4" stroke-width="2" stroke-linejoin="round"/><polygon points="590,100 640,92 685,92 685,118 640,125 595,122" fill="#d62728" stroke="#d62728" stroke-width="2" stroke-linejoin="round"/><ellipse cx="620" cy="10" rx="6" ry="6" fill="#d62728"/><ellipse cx="648" cy="40" rx="8" ry="6" fill="#d62728"/><ellipse cx="672" cy="15" rx="5" ry="3" fill="#000"/><polygon points="255,95 300,100 340,105 375,105 385,120 350,130 300,140 270,140 255,125" fill="#d62728" stroke="#d62728" stroke-width="2" stroke-linejoin="round"/><polygon points="280,110 330,105 385,120 380,140 340,148 300,138" fill="#1f77b4" stroke="#1f77b4" stroke-width="2" stroke-linejoin="round"/><polyline points="265,110 300,120" fill="none" stroke="#9467bd" stroke-width="8.1" stroke-linecap="round" stroke-linejoin="round"/><polygon points="250,80 265,75 275,100 270,125 255,120" fill="none" stroke="#000" stroke-width="5.5" stroke-linejoin="round"/><polyline points="300,130 340,140 370,145" fill="none" stroke="#000" stroke-width="5.5" stroke-linejoin="round" stroke-linecap="round"/><polyline points="270,105 300,95 340,110" fill="none" stroke="#000" stroke-width="5.5" stroke-linejoin="round" stroke-linecap="round"/><ellipse cx="270" cy="145" rx="10" ry="6" fill="#d62728"/><polyline points="265,155 300,178" fill="none" stroke="#ff7f0e" stroke-width="10.8" stroke-linecap="round" stroke-linejoin="round"/><ellipse cx="300" cy="180" rx="6" ry="5" fill="#000"/><ellipse cx="345" cy="102" rx="8" ry="6" fill="#d62728"/><ellipse cx="380" cy="100" rx="6" ry="5" fill="#d62728"/><ellipse cx="330" cy="85" rx="6" ry="5" fill="#1f77b4"/><ellipse cx="215" cy="125" rx="8" ry="6" fill="#d62728"/><ellipse cx="545" cy="150" rx="4" ry="3" fill="#d62728"/><ellipse cx="150" cy="178" rx="5" ry="4" fill="#d62728"/><polygon points="535,180 550,180 555,200 545,215 535,205" fill="#d62728" stroke="#d62728" stroke-width="2" stroke-linejoin="round"/><polyline points="565,210 580,225" fill="none" stroke="#1f77b4" stroke-width="10.8" stroke-linecap="round" stroke-linejoin="round"/><polyline points="510,170 530,172" fill="none" stroke="#d62728" stroke-width="6.75" stroke-linecap="round" stroke-linejoin="round"/><polyline points="10,300 50,295 110,275" fill="none" stroke="#1f77b4" stroke-width="13.5" stroke-linecap="round" stroke-linejoin="round"/><polygon points="15,300 60,292 110,300 100,320 60,330 20,325" fill="#d62728" stroke="#d62728" stroke-width="2" stroke-linejoin="round"/><ellipse cx="105" cy="308" rx="10" ry="6" fill="none" stroke="#000" stroke-width="4.0"/><polyline points="90,265 120,258" fill="none" stroke="#d62728" stroke-width="8.1" stroke-linecap="round" stroke-linejoin="round"/><ellipse cx="235" cy="262" rx="8" ry="8" fill="#1f77b4"/><ellipse cx="245" cy="298" rx="8" ry="4" fill="#000"/><ellipse cx="200" cy="270" rx="4" ry="3" fill="#d62728"/><ellipse cx="400" cy="280" rx="10" ry="10" fill="#d62728"/><polygon points="365,320 390,300 410,310 400,342 360,342" fill="#ff7f0e" stroke="#ff7f0e" stroke-width="2" stroke-linejoin="round"/><ellipse cx="405" cy="330" rx="12" ry="10" fill="#2ca02c"/><polygon points="410,320 470,318 520,320 500,342 420,342" fill="#1f77b4" stroke="#1f77b4" stroke-width="2" stroke-linejoin="round"/><polyline points="390,295 380,310 360,325 345,342" fill="none" stroke="#000" stroke-width="6.0" stroke-linejoin="round" stroke-linecap="round"/><polyline points="420,330 470,322 510,325" fill="none" stroke="#000" stroke-width="5.5" stroke-linejoin="round" stroke-linecap="round"/><polyline points="280,340 310,325" fill="none" stroke="#9467bd" stroke-width="13.5" stroke-linecap="round" stroke-linejoin="round"/><polyline points="270,342 320,320" fill="none" stroke="#1f77b4" stroke-width="8.1" stroke-linecap="round" stroke-linejoin="round"/><polyline points="440,298 470,298" fill="none" stroke="#d62728" stroke-width="6.75" stroke-linecap="round" stroke-linejoin="round"/><ellipse cx="540" cy="295" rx="6" ry="5" fill="#1f77b4"/><ellipse cx="520" cy="275" rx="3" ry="3" fill="#1f77b4"/><polyline points="580,250 600,240" fill="none" stroke="#1f77b4" stroke-width="10.8" stroke-linecap="round" stroke-linejoin="round"/><ellipse cx="555" cy="325" rx="6" ry="8" fill="#1f77b4"/><polygon points="620,330 660,320 685,318 685,342 630,342" fill="#1f77b4" stroke="#1f77b4" stroke-width="2" stroke-linejoin="round"/><polygon points="600,330 640,320 685,312 685,342 620,342" fill="none" stroke="#000" stroke-width="5.5" stroke-linejoin="round"/><ellipse cx="565" cy="312" rx="6" ry="5" fill="#d62728"/><ellipse cx="575" cy="332" rx="5" ry="5" fill="#ff7f0e"/><ellipse cx="680" cy="275" rx="5" ry="4" fill="none" stroke="#000" stroke-width="3.0"/><ellipse cx="660" cy="245" rx="4" ry="3" fill="#d62728"/></g>
<g transform="translate(552,398) scale(0.166423)"><polygon points="0,40 30,35 60,55 90,70 120,55 160,35 200,25 240,30 265,55 280,90 260,75 240,70 200,85 160,105 120,118 90,112 60,90 30,75 0,70" fill="#1f77b4" stroke="#1f77b4" stroke-width="2" stroke-linejoin="round"/><polyline points="10,65 40,68 70,72" fill="none" stroke="#000" stroke-width="8.0" stroke-linejoin="round" stroke-linecap="round"/><ellipse cx="120" cy="78" rx="4" ry="3" fill="#000"/><polyline points="110,25 160,30" fill="none" stroke="#d62728" stroke-width="8.1" stroke-linecap="round" stroke-linejoin="round"/><ellipse cx="200" cy="18" rx="5" ry="3" fill="#000"/><ellipse cx="20" cy="100" rx="14" ry="8" fill="#d62728"/><ellipse cx="0" cy="88" rx="5" ry="4" fill="#d62728"/><polyline points="295,65 315,95" fill="none" stroke="#d62728" stroke-width="8.1" stroke-linecap="round" stroke-linejoin="round"/><ellipse cx="290" cy="105" rx="6" ry="5" fill="#000"/><ellipse cx="298" cy="115" rx="4" ry="4" fill="#ff7f0e"/><ellipse cx="365" cy="58" rx="12" ry="8" fill="#d62728"/><ellipse cx="365" cy="70" rx="6" ry="4" fill="#1f77b4"/><ellipse cx="380" cy="108" rx="10" ry="5" fill="#d62728"/><polyline points="360,118 400,135 460,152" fill="none" stroke="#1f77b4" stroke-width="16.2" stroke-linecap="round" stroke-linejoin="round"/><ellipse cx="440" cy="18" rx="5" ry="3" fill="#d62728"/><ellipse cx="195" cy="130" rx="15" ry="8" fill="#d62728"/><polyline points="180,155 230,158" fill="none" stroke="#1f77b4" stroke-width="10.8" stroke-linecap="round" stroke-linejoin="round"/><polyline points="165,152 190,155 220,158" fill="none" stroke="#000" stroke-width="6.0" stroke-linejoin="round" stroke-linecap="round"/><ellipse cx="225" cy="158" rx="8" ry="4" fill="none" stroke="#000" stroke-width="3.0"/><ellipse cx="250" cy="155" rx="5" ry="3" fill="#d62728"/><ellipse cx="262" cy="145" rx="5" ry="4" fill="#000"/><ellipse cx="275" cy="168" rx="4" ry="3" fill="#000"/><ellipse cx="295" cy="152" rx="5" ry="4" fill="#000"/><ellipse cx="298" cy="178" rx="6" ry="5" fill="#000"/><ellipse cx="260" cy="182" rx="5" ry="4" fill="#d62728"/><ellipse cx="260" cy="248" rx="4" ry="6" fill="#d62728"/><polyline points="80,235 90,220" fill="none" stroke="#1f77b4" stroke-width="10.8" stroke-linecap="round" stroke-linejoin="round"/><ellipse cx="75" cy="275" rx="3" ry="3" fill="#d62728"/><polyline points="615,65 650,80 670,100" fill="none" stroke="#d62728" stroke-width="13.5" stroke-linecap="round" stroke-linejoin="round"/><ellipse cx="598" cy="78" rx="6" ry="3" fill="#1f77b4"/><ellipse cx="575" cy="140" rx="6" ry="5" fill="#d62728"/><polyline points="560,198 600,175 630,162" fill="none" stroke="#1f77b4" stroke-width="16.2" stroke-linecap="round" stroke-linejoin="round"/><ellipse cx="582" cy="305" rx="6" ry="6" fill="#d62728"/><polyline points="20,325 60,305 95,295" fill="none" stroke="#d62728" stroke-width="13.5" stroke-linecap="round" stroke-linejoin="round"/><ellipse cx="5" cy="318" rx="8" ry="5" fill="none" stroke="#000" stroke-width="4.0"/><ellipse cx="8" cy="330" rx="8" ry="5" fill="#1f77b4"/><ellipse cx="160" cy="335" rx="6" ry="4" fill="#d62728"/><ellipse cx="185" cy="335" rx="6" ry="4" fill="#d62728"/><ellipse cx="218" cy="325" rx="6" ry="4" fill="#1f77b4"/><ellipse cx="215" cy="295" rx="3" ry="3" fill="#d62728"/><ellipse cx="200" cy="340" rx="8" ry="3" fill="#1f77b4"/></g>
<g transform="translate(439,455) scale(0.166423)"><polyline points="180,10 230,22 280,8" fill="none" stroke="#1f77b4" stroke-width="10.8" stroke-linecap="round" stroke-linejoin="round"/><ellipse cx="250" cy="10" rx="15" ry="5" fill="#2ca02c"/><polyline points="190,15 230,22 270,10" fill="none" stroke="#000" stroke-width="5.5" stroke-linejoin="round" stroke-linecap="round"/><ellipse cx="200" cy="8" rx="5" ry="3" fill="#ff7f0e"/><polygon points="360,0 420,0 450,5 420,12 370,12" fill="#2ca02c" stroke="#2ca02c" stroke-width="2" stroke-linejoin="round"/><polygon points="430,0 480,0 470,10 440,10" fill="#1f77b4" stroke="#1f77b4" stroke-width="2" stroke-linejoin="round"/><polygon points="335,8 345,0 400,0 430,5 480,0 500,10 480,18 420,20 370,18 340,20" fill="none" stroke="#000" stroke-width="5.5" stroke-linejoin="round"/><polygon points="560,0 620,0 660,10 670,30 640,40 600,45 570,40 560,20" fill="#1f77b4" stroke="#1f77b4" stroke-width="2" stroke-linejoin="round"/><ellipse cx="600" cy="20" rx="20" ry="8" fill="#2ca02c"/><polyline points="565,10 600,25 640,30 670,20" fill="none" stroke="#000" stroke-width="6.0" stroke-linejoin="round" stroke-linecap="round"/><ellipse cx="580" cy="30" rx="10" ry="8" fill="none" stroke="#000" stroke-width="4.0"/><polyline points="620,40 685,38" fill="none" stroke="#d62728" stroke-width="10.8" stroke-linecap="round" stroke-linejoin="round"/><polyline points="540,48 560,45" fill="none" stroke="#1f77b4" stroke-width="8.1" stroke-linecap="round" stroke-linejoin="round"/><polyline points="530,55 545,45" fill="none" stroke="#000" stroke-width="5.5" stroke-linejoin="round" stroke-linecap="round"/><polygon points="20,95 50,100 90,105 80,115 40,118 10,120" fill="#2ca02c" stroke="#2ca02c" stroke-width="2" stroke-linejoin="round"/><ellipse cx="15" cy="95" rx="8" ry="8" fill="#ff7f0e"/><polygon points="10,80 20,68 35,90 50,100 45,110 20,115 10,100" fill="none" stroke="#000" stroke-width="5.5" stroke-linejoin="round"/><polygon points="60,55 100,45 130,55 150,100 120,110 90,105 70,85" fill="#1f77b4" stroke="#1f77b4" stroke-width="2" stroke-linejoin="round"/><polyline points="90,45 110,55 140,100" fill="none" stroke="#000" stroke-width="5.5" stroke-linejoin="round" stroke-linecap="round"/><ellipse cx="130" cy="100" rx="8" ry="6" fill="#ff7f0e"/><polygon points="100,35 120,25 125,45 110,55 95,48" fill="#d62728" stroke="#d62728" stroke-width="2" stroke-linejoin="round"/><ellipse cx="100" cy="70" rx="10" ry="8" fill="#2ca02c"/><ellipse cx="95" cy="90" rx="6" ry="6" fill="none" stroke="#000" stroke-width="3.0"/><polyline points="80,60 100,55" fill="none" stroke="#d62728" stroke-width="6.75" stroke-linecap="round" stroke-linejoin="round"/><polyline points="15,145 50,155" fill="none" stroke="#d62728" stroke-width="8.1" stroke-linecap="round" stroke-linejoin="round"/><ellipse cx="155" cy="32" rx="5" ry="4" fill="#000"/><ellipse cx="85" cy="170" rx="4" ry="3" fill="#d62728"/><polyline points="195,85 215,85" fill="none" stroke="#000" stroke-width="8.1" stroke-linecap="round" stroke-linejoin="round"/><polyline points="255,82 280,82" fill="none" stroke="#000" stroke-width="8.1" stroke-linecap="round" stroke-linejoin="round"/><polygon points="280,130 310,110 360,110 420,100 470,95 520,95 525,110 470,120 420,125 360,140 320,150 290,145" fill="#1f77b4" stroke="#1f77b4" stroke-width="2" stroke-linejoin="round"/><ellipse cx="300" cy="115" rx="6" ry="8" fill="#d62728"/><polygon points="285,130 300,112 310,115 305,135" fill="none" stroke="#000" stroke-width="5.5" stroke-linejoin="round"/><polyline points="335,130 350,125 360,130 370,128" fill="none" stroke="#000" stroke-width="5.5" stroke-linejoin="round" stroke-linecap="round"/><ellipse cx="440" cy="105" rx="10" ry="4" fill="#2ca02c"/><polygon points="405,110 420,95 460,95 470,105 450,112 420,118" fill="none" stroke="#000" stroke-width="5.5" stroke-linejoin="round"/><ellipse cx="375" cy="138" rx="6" ry="4" fill="#d62728"/><polyline points="310,165 335,172" fill="none" stroke="#d62728" stroke-width="6.75" stroke-linecap="round" stroke-linejoin="round"/><ellipse cx="428" cy="72" rx="5" ry="4" fill="#d62728"/><ellipse cx="500" cy="72" rx="8" ry="6" fill="none" stroke="#000" stroke-width="4.0"/><polyline points="520,65 560,60" fill="none" stroke="#d62728" stroke-width="8.1" stroke-linecap="round" stroke-linejoin="round"/><polyline points="540,75 600,70" fill="none" stroke="#d62728" stroke-width="6.75" stroke-linecap="round" stroke-linejoin="round"/><polygon points="560,115 620,120 680,115 685,140 640,155 600,150 570,135" fill="#1f77b4" stroke="#1f77b4" stroke-width="2" stroke-linejoin="round"/><polyline points="600,125 685,125" fill="none" stroke="#1f77b4" stroke-width="16.2" stroke-linecap="round" stroke-linejoin="round"/><polygon points="530,105 570,100 600,120 600,145 575,145 540,120" fill="#2ca02c" stroke="#2ca02c" stroke-width="2" stroke-linejoin="round"/><polygon points="525,108 550,100 590,115 600,140 580,148 545,125" fill="none" stroke="#000" stroke-width="5.5" stroke-linejoin="round"/><polygon points="155,210 180,200 220,198 260,205 290,220 285,235 250,240 210,238 185,230 160,222" fill="#1f77b4" stroke="#1f77b4" stroke-width="2" stroke-linejoin="round"/><polyline points="200,245 220,255" fill="none" stroke="#000" stroke-width="6.0" stroke-linejoin="round" stroke-linecap="round"/><ellipse cx="225" cy="272" rx="8" ry="6" fill="#1f77b4"/><ellipse cx="462" cy="250" rx="6" ry="5" fill="#d62728"/><polygon points="490,230 500,222 508,240 498,250" fill="#d62728" stroke="#d62728" stroke-width="2" stroke-linejoin="round"/><ellipse cx="585" cy="255" rx="6" ry="6" fill="none" stroke="#000" stroke-width="3.0"/><ellipse cx="675" cy="215" rx="4" ry="6" fill="#d62728"/><polygon points="440,295 470,290 500,305 520,330 500,342 450,342 440,320" fill="#2ca02c" stroke="#2ca02c" stroke-width="2" stroke-linejoin="round"/><polyline points="460,285 500,300" fill="none" stroke="#1f77b4" stroke-width="8.1" stroke-linecap="round" stroke-linejoin="round"/><ellipse cx="475" cy="320" rx="12" ry="8" fill="#ff7f0e"/><polyline points="440,290 480,300 510,320 520,340" fill="none" stroke="#000" stroke-width="6.0" stroke-linejoin="round" stroke-linecap="round"/><polyline points="450,310 480,320 500,335" fill="none" stroke="#000" stroke-width="5.5" stroke-linejoin="round" stroke-linecap="round"/><ellipse cx="440" cy="318" rx="4" ry="8" fill="#d62728"/><ellipse cx="490" cy="290" rx="6" ry="4" fill="#d62728"/><polygon points="580,295 620,285 650,300 680,320 685,342 620,342 590,315" fill="#2ca02c" stroke="#2ca02c" stroke-width="2" stroke-linejoin="round"/><ellipse cx="600" cy="310" rx="15" ry="10" fill="#ff7f0e"/><ellipse cx="660" cy="330" rx="15" ry="10" fill="#ff7f0e"/><polyline points="580,298 620,288 650,300 685,320" fill="none" stroke="#000" stroke-width="6.0" stroke-linejoin="round" stroke-linecap="round"/><polyline points="600,320 640,340" fill="none" stroke="#000" stroke-width="5.5" stroke-linejoin="round" stroke-linecap="round"/><ellipse cx="560" cy="295" rx="5" ry="4" fill="#000"/><ellipse cx="650" cy="335" rx="8" ry="6" fill="none" stroke="#000" stroke-width="4.0"/><ellipse cx="570" cy="290" rx="5" ry="3" fill="#1f77b4"/><ellipse cx="80" cy="308" rx="6" ry="8" fill="#d62728"/><ellipse cx="112" cy="310" rx="5" ry="3" fill="#000"/><ellipse cx="70" cy="320" rx="3" ry="3" fill="#d62728"/></g>
<g transform="translate(552,455) scale(0.166423)"><polygon points="150,15 180,5 220,8 230,20 200,30 165,28" fill="#2ca02c" stroke="#2ca02c" stroke-width="2" stroke-linejoin="round"/><polygon points="148,15 180,3 225,8 235,22 200,32 160,28" fill="none" stroke="#000" stroke-width="5.5" stroke-linejoin="round"/><polyline points="225,18 255,20" fill="none" stroke="#1f77b4" stroke-width="10.8" stroke-linecap="round" stroke-linejoin="round"/><ellipse cx="195" cy="45" rx="8" ry="4" fill="#000"/><polygon points="135,50 150,40 165,55 185,70 160,72 140,62" fill="#ff7f0e" stroke="#ff7f0e" stroke-width="2" stroke-linejoin="round"/><polyline points="135,45 160,60 185,70" fill="none" stroke="#000" stroke-width="5.5" stroke-linejoin="round" stroke-linecap="round"/><ellipse cx="148" cy="75" rx="4" ry="3" fill="#d62728"/><polygon points="245,62 290,55 330,58 340,70 300,75 255,75" fill="#1f77b4" stroke="#1f77b4" stroke-width="2" stroke-linejoin="round"/><ellipse cx="258" cy="75" rx="4" ry="3" fill="#d62728"/><polygon points="330,45 360,35 390,30 395,60 390,95 375,95 360,70" fill="#1f77b4" stroke="#1f77b4" stroke-width="2" stroke-linejoin="round"/><polygon points="370,45 390,35 395,65 385,95 375,85" fill="#ff7f0e" stroke="#ff7f0e" stroke-width="2" stroke-linejoin="round"/><polyline points="365,60 380,90 390,98" fill="none" stroke="#000" stroke-width="5.5" stroke-linejoin="round" stroke-linecap="round"/><polygon points="380,30 395,28 398,60 388,95" fill="none" stroke="#000" stroke-width="4.0" stroke-linejoin="round"/><polyline points="420,28 445,25" fill="none" stroke="#000" stroke-width="8.1" stroke-linecap="round" stroke-linejoin="round"/><ellipse cx="412" cy="45" rx="5" ry="3" fill="#000"/><polygon points="450,85 480,70 520,80 560,100 620,125 670,140 680,160 650,170 600,160 540,140 500,125 470,105" fill="#2ca02c" stroke="#2ca02c" stroke-width="2" stroke-linejoin="round"/><polygon points="450,90 470,70 490,78 480,105 460,105" fill="#ff7f0e" stroke="#ff7f0e" stroke-width="2" stroke-linejoin="round"/><polyline points="520,115 600,140 660,155" fill="none" stroke="#ff7f0e" stroke-width="10.8" stroke-linecap="round" stroke-linejoin="round"/><polyline points="510,110 540,130" fill="none" stroke="#1f77b4" stroke-width="8.1" stroke-linecap="round" stroke-linejoin="round"/><polyline points="448,95 470,72 510,80 560,100 620,120 670,135" fill="none" stroke="#000" stroke-width="6.0" stroke-linejoin="round" stroke-linecap="round"/><polyline points="470,110 520,130 580,150 640,165 680,170" fill="none" stroke="#000" stroke-width="6.0" stroke-linejoin="round" stroke-linecap="round"/><polyline points="500,100 505,125" fill="none" stroke="#000" stroke-width="5.5" stroke-linejoin="round" stroke-linecap="round"/><ellipse cx="510" cy="72" rx="8" ry="5" fill="#d62728"/><polyline points="620,160 680,172" fill="none" stroke="#d62728" stroke-width="8.1" stroke-linecap="round" stroke-linejoin="round"/><ellipse cx="520" cy="58" rx="5" ry="3" fill="#1f77b4"/><polygon points="590,65 610,50 635,40 660,48 650,70 620,80 595,80" fill="#d62728" stroke="#d62728" stroke-width="2" stroke-linejoin="round"/><polygon points="595,70 615,55 640,50 665,70 650,90 620,100 600,90" fill="none" stroke="#000" stroke-width="5.5" stroke-linejoin="round"/><ellipse cx="640" cy="30" rx="12" ry="10" fill="#d62728"/><polyline points="600,95 620,100" fill="none" stroke="#1f77b4" stroke-width="8.1" stroke-linecap="round" stroke-linejoin="round"/><ellipse cx="605" cy="70" rx="6" ry="5" fill="none" stroke="#000" stroke-width="3.0"/><ellipse cx="30" cy="95" rx="12" ry="8" fill="#d62728"/><polygon points="0,110 40,105 60,115 55,135 30,140 0,135" fill="#1f77b4" stroke="#1f77b4" stroke-width="2" stroke-linejoin="round"/><ellipse cx="40" cy="125" rx="10" ry="6" fill="#2ca02c"/><ellipse cx="40" cy="128" rx="12" ry="10" fill="none" stroke="#000" stroke-width="4.0"/><ellipse cx="0" cy="30" rx="5" ry="5" fill="#d62728"/><ellipse cx="20" cy="115" rx="6" ry="5" fill="#1f77b4"/><ellipse cx="80" cy="80" rx="6" ry="4" fill="#d62728"/><ellipse cx="75" cy="92" rx="6" ry="4" fill="#000"/><ellipse cx="85" cy="92" rx="6" ry="4" fill="#1f77b4"/><polyline points="120,135 150,125" fill="none" stroke="#1f77b4" stroke-width="10.8" stroke-linecap="round" stroke-linejoin="round"/><polyline points="160,148 180,148" fill="none" stroke="#1f77b4" stroke-width="6.75" stroke-linecap="round" stroke-linejoin="round"/><ellipse cx="170" cy="165" rx="4" ry="4" fill="#d62728"/><polyline points="0,218 50,225 105,238" fill="none" stroke="#1f77b4" stroke-width="13.5" stroke-linecap="round" stroke-linejoin="round"/><ellipse cx="533" cy="198" rx="5" ry="5" fill="#d62728"/><ellipse cx="555" cy="245" rx="6" ry="6" fill="#d62728"/><polyline points="548,260 555,275" fill="none" stroke="#000" stroke-width="5.5" stroke-linejoin="round" stroke-linecap="round"/><ellipse cx="565" cy="298" rx="6" ry="4" fill="#d62728"/><ellipse cx="258" cy="305" rx="6" ry="4" fill="#000"/><ellipse cx="345" cy="298" rx="8" ry="6" fill="#d62728"/><ellipse cx="340" cy="315" rx="5" ry="4" fill="#000"/><polyline points="300,330 350,330" fill="none" stroke="#1f77b4" stroke-width="8.1" stroke-linecap="round" stroke-linejoin="round"/><polyline points="410,335 490,335" fill="none" stroke="#d62728" stroke-width="10.8" stroke-linecap="round" stroke-linejoin="round"/><polyline points="460,320 490,322" fill="none" stroke="#1f77b4" stroke-width="8.1" stroke-linecap="round" stroke-linejoin="round"/><polyline points="0,320 80,330" fill="none" stroke="#1f77b4" stroke-width="10.8" stroke-linecap="round" stroke-linejoin="round"/><ellipse cx="20" cy="332" rx="10" ry="6" fill="#2ca02c"/><polyline points="40,335 80,340" fill="none" stroke="#000" stroke-width="5.5" stroke-linejoin="round" stroke-linecap="round"/><ellipse cx="295" cy="330" rx="5" ry="5" fill="none" stroke="#000" stroke-width="3.0"/></g>
</g>
<g stroke="#000" stroke-width="0.6" fill="none">
<path d="M439.2,399.0H665.3M439.2,511.6H665.3M439.5,399.0V511.6M665.0,399.0V511.6"/>
<path d="M436.70,399.00H439.5M514.67,511.6V514.20M436.70,455.30H439.5M589.83,511.6V514.20M436.70,511.60H439.5M665.00,511.6V514.20"/>
</g>
<text transform="matrix(0.19852,0,0,0.17042,392.11,405.23)" font-size="100" stroke="#000" stroke-width="1.36" >1103</text>
<text transform="matrix(0.19108,0,0,0.17042,403.04,461.53)" font-size="100" stroke="#000" stroke-width="1.38" >773</text>
<text transform="matrix(0.18750,0,0,0.17042,403.62,517.83)" font-size="100" stroke="#000" stroke-width="1.40" >443</text>
<text transform="matrix(0.19190,0,0,0.16479,493.08,528.94)" font-size="100" stroke="#000" stroke-width="1.40" >1769</text>
<text transform="matrix(0.18920,0,0,0.16479,568.84,528.94)" font-size="100" stroke="#000" stroke-width="1.41" >2209</text>
<text transform="matrix(0.18920,0,0,0.16479,644.00,528.94)" font-size="100" stroke="#000" stroke-width="1.41" >2649</text>
<text transform="matrix(0.17857,0,0,0.16415,540.16,547.50)" font-size="100" stroke="#000" stroke-width="1.46" font-style="italic">x</text>
<text transform="matrix(0.15625,0,0,0.16122,552.67,543.75)" font-size="100" stroke="#000" stroke-width="1.57" >+</text>
<text transform="matrix(0,-0.19184,0.17547,0,386.10,467.70)" font-size="100" stroke="#000" stroke-width="1.36" font-style="italic">z</text>
<text transform="matrix(0,-0.16458,0.15510,0,381.40,455.62)" font-size="100" stroke="#000" stroke-width="1.56" >+</text>
<text transform="matrix(0.17000,0,0,0.17973,519.05,394.23)" font-size="100" stroke="#000" stroke-width="1.43" font-style="italic">y</text>
<text transform="matrix(0.16042,0,0,0.13673,531.70,389.53)" font-size="100" stroke="#000" stroke-width="1.68" >+</text>
<path d="M549.50,388.25 C551.70,385.95 553.10,386.95 554.35,387.55 S557.00,389.15 559.20,386.85" stroke="#000" stroke-width="1.35" fill="none" stroke-linecap="round"/>
<rect x="549.10" y="390.40" width="10.4" height="1.4" fill="#000"/>
<text transform="matrix(0.17745,0,0,0.15775,565.29,393.64)" font-size="100" stroke="#000" stroke-width="1.49" >81</text>
<text transform="matrix(0.28788,0,0,0.21884,362.31,410.22)" font-size="100" stroke="#000" stroke-width="0.00" font-family="Liberation Serif" font-weight="bold">f</text>
<text transform="matrix(0.25385,0,0,0.23444,371.94,409.68)" font-size="100" stroke="#000" stroke-width="0.20" font-family="Liberation Serif">)</text>
</svg>
</body></html>
